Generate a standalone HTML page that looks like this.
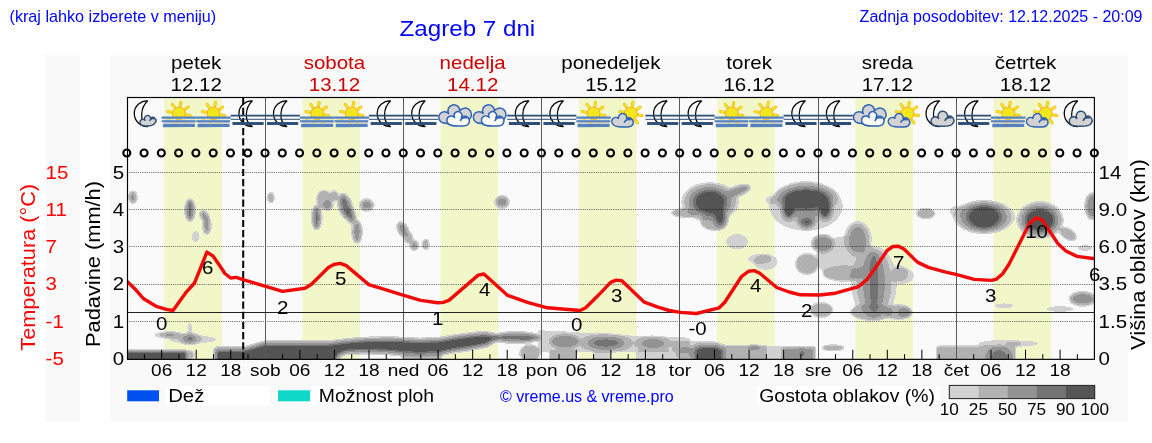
<!DOCTYPE html>
<html><head><meta charset="utf-8"><title>Zagreb 7 dni</title>
<style>
html,body{margin:0;padding:0;background:#fff;}
body{width:1152px;height:443px;overflow:hidden;position:relative;font-family:"Liberation Sans",sans-serif;}
svg{position:absolute;left:0;top:0;display:block;}
text{font-family:"Liberation Sans",sans-serif;}
svg{opacity:0.9999;will-change:opacity;}
</style></head><body>
<svg width="1152" height="443" viewBox="0 0 1152 443">
<defs>
<filter id="cl" x="0" y="0" width="1152" height="443" filterUnits="userSpaceOnUse" color-interpolation-filters="sRGB">
<feGaussianBlur stdDeviation="1.15"/>
<feColorMatrix type="matrix" values="0 0 0 1 0  0 0 0 1 0  0 0 0 1 0  0 0 0 1 0"/>
<feComponentTransfer>
<feFuncR type="discrete" tableValues="1 1 1 1 0.8235 0.8235 0.8235 0.8235 0.8235 0.8235 0.698 0.698 0.698 0.698 0.698 0.698 0.698 0.698 0.698 0.698 0.5765 0.5765 0.5765 0.5765 0.5765 0.5765 0.5765 0.5765 0.5765 0.5765 0.4549 0.4549 0.4549 0.4549 0.4549 0.4549 0.3333 0.3333 0.3333 0.3333"/>
<feFuncG type="discrete" tableValues="1 1 1 1 0.8235 0.8235 0.8235 0.8235 0.8235 0.8235 0.698 0.698 0.698 0.698 0.698 0.698 0.698 0.698 0.698 0.698 0.5765 0.5765 0.5765 0.5765 0.5765 0.5765 0.5765 0.5765 0.5765 0.5765 0.4549 0.4549 0.4549 0.4549 0.4549 0.4549 0.3333 0.3333 0.3333 0.3333"/>
<feFuncB type="discrete" tableValues="1 1 1 1 0.8235 0.8235 0.8235 0.8235 0.8235 0.8235 0.698 0.698 0.698 0.698 0.698 0.698 0.698 0.698 0.698 0.698 0.5765 0.5765 0.5765 0.5765 0.5765 0.5765 0.5765 0.5765 0.5765 0.5765 0.4549 0.4549 0.4549 0.4549 0.4549 0.4549 0.3333 0.3333 0.3333 0.3333"/>
<feFuncA type="discrete" tableValues="0 0 0 0 1 1 1 1 1 1 1 1 1 1 1 1 1 1 1 1 1 1 1 1 1 1 1 1 1 1 1 1 1 1 1 1 1 1 1 1"/>
</feComponentTransfer>
</filter>
<clipPath id="plot"><rect x="127.1" y="97.5" width="967.5399999999998" height="261.85"/></clipPath>
</defs>
<rect x="45.5" y="55" width="34.5" height="367" fill="#f9f9f9"/>
<rect x="110" y="55" width="1018.2" height="367" fill="#f9f9f9"/>
<rect x="127.1" y="97.5" width="967.54" height="261.85" fill="#fafafa"/>
<rect x="164.20" y="97.5" width="57.6" height="261.85" fill="#f1f7c9"/>
<rect x="302.42" y="97.5" width="57.6" height="261.85" fill="#f1f7c9"/>
<rect x="440.64" y="97.5" width="57.6" height="261.85" fill="#f1f7c9"/>
<rect x="578.86" y="97.5" width="57.6" height="261.85" fill="#f1f7c9"/>
<rect x="717.08" y="97.5" width="57.6" height="261.85" fill="#f1f7c9"/>
<rect x="855.30" y="97.5" width="57.6" height="261.85" fill="#f1f7c9"/>
<rect x="993.52" y="97.5" width="57.6" height="261.85" fill="#f1f7c9"/>
<g clip-path="url(#plot)"><g filter="url(#cl)">
<ellipse cx="132.9" cy="197.2" rx="5.0" ry="7.0" fill="#000" fill-opacity="0.180"/>
<ellipse cx="132.9" cy="197.2" rx="3.4" ry="5.4" fill="#000" fill-opacity="0.244"/>
<ellipse cx="132.9" cy="197.2" rx="1.8" ry="3.8" fill="#000" fill-opacity="0.387"/>
<ellipse cx="190.0" cy="210.1" rx="6.0" ry="12.0" fill="#000" fill-opacity="0.180"/>
<ellipse cx="190.0" cy="210.1" rx="4.7" ry="10.7" fill="#000" fill-opacity="0.244"/>
<ellipse cx="190.0" cy="210.1" rx="3.4" ry="9.4" fill="#000" fill-opacity="0.387"/>
<ellipse cx="190.0" cy="210.1" rx="2.1" ry="8.1" fill="#000" fill-opacity="0.526"/>
<ellipse cx="204.5" cy="216.0" rx="5.0" ry="7.0" fill="#000" fill-opacity="0.180" transform="rotate(-30 204.5 216.0)"/>
<ellipse cx="204.5" cy="216.0" rx="3.4" ry="5.4" fill="#000" fill-opacity="0.244" transform="rotate(-30 204.5 216.0)"/>
<ellipse cx="204.5" cy="216.0" rx="1.8" ry="3.8" fill="#000" fill-opacity="0.387" transform="rotate(-30 204.5 216.0)"/>
<ellipse cx="206.9" cy="226.0" rx="5.0" ry="9.0" fill="#000" fill-opacity="0.180"/>
<ellipse cx="206.9" cy="226.0" rx="3.4" ry="7.4" fill="#000" fill-opacity="0.244"/>
<ellipse cx="206.9" cy="226.0" rx="1.8" ry="5.8" fill="#000" fill-opacity="0.387"/>
<ellipse cx="195.6" cy="236.7" rx="4.0" ry="6.0" fill="#000" fill-opacity="0.180"/>
<ellipse cx="270.8" cy="197.7" rx="4.0" ry="6.0" fill="#000" fill-opacity="0.180"/>
<ellipse cx="270.8" cy="197.7" rx="2.4" ry="4.4" fill="#000" fill-opacity="0.244"/>
<ellipse cx="316.6" cy="217.6" rx="6.0" ry="13.0" fill="#000" fill-opacity="0.180"/>
<ellipse cx="316.6" cy="217.6" rx="4.6" ry="11.6" fill="#000" fill-opacity="0.244"/>
<ellipse cx="316.6" cy="217.6" rx="3.2" ry="10.2" fill="#000" fill-opacity="0.387"/>
<ellipse cx="316.6" cy="217.6" rx="1.8" ry="8.8" fill="#000" fill-opacity="0.526"/>
<ellipse cx="323.9" cy="199.5" rx="8.0" ry="10.0" fill="#000" fill-opacity="0.180"/>
<ellipse cx="323.9" cy="199.5" rx="6.4" ry="8.4" fill="#000" fill-opacity="0.244"/>
<ellipse cx="327.9" cy="205.1" rx="6.0" ry="6.0" fill="#000" fill-opacity="0.180"/>
<ellipse cx="327.9" cy="205.1" rx="4.4" ry="4.4" fill="#000" fill-opacity="0.244"/>
<ellipse cx="327.9" cy="205.1" rx="2.8" ry="2.8" fill="#000" fill-opacity="0.387"/>
<ellipse cx="334.0" cy="196.1" rx="5.0" ry="6.0" fill="#000" fill-opacity="0.180"/>
<ellipse cx="334.0" cy="196.1" rx="3.4" ry="4.4" fill="#000" fill-opacity="0.244"/>
<ellipse cx="345.3" cy="206.3" rx="8.0" ry="14.0" fill="#000" fill-opacity="0.180" transform="rotate(-15 345.3 206.3)"/>
<ellipse cx="345.3" cy="206.3" rx="6.4" ry="12.4" fill="#000" fill-opacity="0.244" transform="rotate(-15 345.3 206.3)"/>
<ellipse cx="345.3" cy="206.3" rx="4.8" ry="10.8" fill="#000" fill-opacity="0.387" transform="rotate(-15 345.3 206.3)"/>
<ellipse cx="345.3" cy="206.3" rx="3.2" ry="9.2" fill="#000" fill-opacity="0.526" transform="rotate(-15 345.3 206.3)"/>
<ellipse cx="350.5" cy="215.3" rx="6.0" ry="10.0" fill="#000" fill-opacity="0.180" transform="rotate(-20 350.5 215.3)"/>
<ellipse cx="350.5" cy="215.3" rx="4.4" ry="8.4" fill="#000" fill-opacity="0.244" transform="rotate(-20 350.5 215.3)"/>
<ellipse cx="350.5" cy="215.3" rx="2.8" ry="6.8" fill="#000" fill-opacity="0.387" transform="rotate(-20 350.5 215.3)"/>
<ellipse cx="350.5" cy="215.3" rx="1.2" ry="5.2" fill="#000" fill-opacity="0.526" transform="rotate(-20 350.5 215.3)"/>
<ellipse cx="357.0" cy="231.8" rx="6.0" ry="12.0" fill="#000" fill-opacity="0.180"/>
<ellipse cx="357.0" cy="231.8" rx="4.4" ry="10.4" fill="#000" fill-opacity="0.244"/>
<ellipse cx="357.0" cy="231.8" rx="2.8" ry="8.8" fill="#000" fill-opacity="0.387"/>
<ellipse cx="366.7" cy="205.1" rx="8.0" ry="7.0" fill="#000" fill-opacity="0.180"/>
<ellipse cx="366.7" cy="205.1" rx="6.2" ry="5.2" fill="#000" fill-opacity="0.244"/>
<ellipse cx="366.7" cy="205.1" rx="4.4" ry="3.4" fill="#000" fill-opacity="0.387"/>
<ellipse cx="366.7" cy="205.1" rx="2.6" ry="1.6" fill="#000" fill-opacity="0.526"/>
<ellipse cx="392.0" cy="196.8" rx="1.0" ry="1.0" fill="#000" fill-opacity="0.180"/>
<ellipse cx="402.9" cy="229.5" rx="6.0" ry="9.0" fill="#000" fill-opacity="0.180" transform="rotate(-30 402.9 229.5)"/>
<ellipse cx="402.9" cy="229.5" rx="4.4" ry="7.4" fill="#000" fill-opacity="0.244" transform="rotate(-30 402.9 229.5)"/>
<ellipse cx="402.9" cy="229.5" rx="2.8" ry="5.8" fill="#000" fill-opacity="0.387" transform="rotate(-30 402.9 229.5)"/>
<ellipse cx="408.5" cy="237.9" rx="5.0" ry="6.0" fill="#000" fill-opacity="0.180"/>
<ellipse cx="408.5" cy="237.9" rx="3.4" ry="4.4" fill="#000" fill-opacity="0.244"/>
<ellipse cx="414.2" cy="245.3" rx="5.0" ry="6.0" fill="#000" fill-opacity="0.180"/>
<ellipse cx="414.2" cy="245.3" rx="3.4" ry="4.4" fill="#000" fill-opacity="0.244"/>
<ellipse cx="414.2" cy="245.3" rx="1.8" ry="2.8" fill="#000" fill-opacity="0.387"/>
<ellipse cx="425.7" cy="244.4" rx="4.0" ry="6.0" fill="#000" fill-opacity="0.180"/>
<ellipse cx="425.7" cy="244.4" rx="2.4" ry="4.4" fill="#000" fill-opacity="0.244"/>
<ellipse cx="502.0" cy="202.0" rx="8.0" ry="7.0" fill="#000" fill-opacity="0.180"/>
<ellipse cx="502.0" cy="202.0" rx="6.4" ry="5.4" fill="#000" fill-opacity="0.244"/>
<ellipse cx="502.0" cy="202.0" rx="4.8" ry="3.8" fill="#000" fill-opacity="0.387"/>
<ellipse cx="710.0" cy="202.0" rx="29.0" ry="20.0" fill="#000" fill-opacity="0.180"/>
<ellipse cx="710.0" cy="202.0" rx="25.3" ry="17.6" fill="#000" fill-opacity="0.244"/>
<ellipse cx="710.0" cy="202.0" rx="21.6" ry="15.2" fill="#000" fill-opacity="0.387"/>
<ellipse cx="710.0" cy="202.0" rx="17.9" ry="12.8" fill="#000" fill-opacity="0.526"/>
<ellipse cx="710.0" cy="202.0" rx="14.2" ry="10.4" fill="#000" fill-opacity="0.833"/>
<ellipse cx="720.0" cy="217.0" rx="9.0" ry="13.0" fill="#000" fill-opacity="0.180"/>
<ellipse cx="720.0" cy="217.0" rx="7.3" ry="11.3" fill="#000" fill-opacity="0.244"/>
<ellipse cx="720.0" cy="217.0" rx="5.6" ry="9.6" fill="#000" fill-opacity="0.387"/>
<ellipse cx="720.0" cy="217.0" rx="3.9" ry="7.9" fill="#000" fill-opacity="0.526"/>
<ellipse cx="720.0" cy="217.0" rx="2.2" ry="6.2" fill="#000" fill-opacity="0.833"/>
<ellipse cx="714.0" cy="221.0" rx="14.0" ry="10.0" fill="#000" fill-opacity="0.180"/>
<ellipse cx="714.0" cy="221.0" rx="12.4" ry="8.4" fill="#000" fill-opacity="0.244"/>
<ellipse cx="685.0" cy="213.0" rx="14.0" ry="5.0" fill="#000" fill-opacity="0.180"/>
<ellipse cx="685.0" cy="213.0" rx="12.4" ry="3.4" fill="#000" fill-opacity="0.244"/>
<ellipse cx="738.0" cy="191.0" rx="14.0" ry="6.0" fill="#000" fill-opacity="0.180" transform="rotate(-20 738.0 191.0)"/>
<ellipse cx="738.0" cy="191.0" rx="12.4" ry="4.4" fill="#000" fill-opacity="0.244" transform="rotate(-20 738.0 191.0)"/>
<ellipse cx="738.0" cy="191.0" rx="10.8" ry="2.8" fill="#000" fill-opacity="0.387" transform="rotate(-20 738.0 191.0)"/>
<ellipse cx="806.0" cy="199.0" rx="32.0" ry="16.0" fill="#000" fill-opacity="0.180"/>
<ellipse cx="806.0" cy="199.0" rx="29.2" ry="14.2" fill="#000" fill-opacity="0.244"/>
<ellipse cx="806.0" cy="199.0" rx="26.4" ry="12.4" fill="#000" fill-opacity="0.387"/>
<ellipse cx="806.0" cy="199.0" rx="23.6" ry="10.6" fill="#000" fill-opacity="0.526"/>
<ellipse cx="806.0" cy="199.0" rx="20.8" ry="8.8" fill="#000" fill-opacity="0.833"/>
<ellipse cx="789.0" cy="209.0" rx="9.0" ry="13.0" fill="#000" fill-opacity="0.180"/>
<ellipse cx="789.0" cy="209.0" rx="7.8" ry="11.5" fill="#000" fill-opacity="0.244"/>
<ellipse cx="789.0" cy="209.0" rx="6.6" ry="10.0" fill="#000" fill-opacity="0.387"/>
<ellipse cx="789.0" cy="209.0" rx="5.4" ry="8.5" fill="#000" fill-opacity="0.526"/>
<ellipse cx="789.0" cy="209.0" rx="4.2" ry="7.0" fill="#000" fill-opacity="0.833"/>
<ellipse cx="825.0" cy="209.0" rx="9.0" ry="13.0" fill="#000" fill-opacity="0.180"/>
<ellipse cx="825.0" cy="209.0" rx="7.8" ry="11.5" fill="#000" fill-opacity="0.244"/>
<ellipse cx="825.0" cy="209.0" rx="6.6" ry="10.0" fill="#000" fill-opacity="0.387"/>
<ellipse cx="825.0" cy="209.0" rx="5.4" ry="8.5" fill="#000" fill-opacity="0.526"/>
<ellipse cx="825.0" cy="209.0" rx="4.2" ry="7.0" fill="#000" fill-opacity="0.833"/>
<ellipse cx="806.6" cy="215.0" rx="13.0" ry="12.0" fill="#000" fill-opacity="0.180"/>
<ellipse cx="806.6" cy="215.0" rx="11.4" ry="10.4" fill="#000" fill-opacity="0.244"/>
<ellipse cx="806.6" cy="222.0" rx="9.0" ry="8.0" fill="#000" fill-opacity="0.180"/>
<ellipse cx="806.6" cy="222.0" rx="7.4" ry="6.4" fill="#000" fill-opacity="0.244"/>
<ellipse cx="806.6" cy="222.0" rx="5.8" ry="4.8" fill="#000" fill-opacity="0.387"/>
<ellipse cx="806.6" cy="222.0" rx="4.2" ry="3.2" fill="#000" fill-opacity="0.526"/>
<ellipse cx="806.0" cy="206.0" rx="37.0" ry="25.0" fill="#000" fill-opacity="0.180"/>
<ellipse cx="772.0" cy="200.0" rx="7.0" ry="4.0" fill="#000" fill-opacity="0.180"/>
<ellipse cx="737.0" cy="241.7" rx="11.0" ry="8.0" fill="#000" fill-opacity="0.180"/>
<ellipse cx="822.8" cy="243.5" rx="12.0" ry="10.0" fill="#000" fill-opacity="0.180"/>
<ellipse cx="822.8" cy="243.5" rx="10.4" ry="8.4" fill="#000" fill-opacity="0.244"/>
<ellipse cx="822.8" cy="243.5" rx="8.8" ry="6.8" fill="#000" fill-opacity="0.387"/>
<ellipse cx="759.6" cy="259.0" rx="12.0" ry="5.0" fill="#000" fill-opacity="0.180"/>
<ellipse cx="857.9" cy="239.1" rx="14.0" ry="18.0" fill="#000" fill-opacity="0.180"/>
<ellipse cx="857.9" cy="239.1" rx="11.0" ry="15.0" fill="#000" fill-opacity="0.244"/>
<ellipse cx="857.9" cy="239.1" rx="8.0" ry="12.0" fill="#000" fill-opacity="0.387"/>
<ellipse cx="807.0" cy="264.0" rx="12.0" ry="11.0" fill="#000" fill-opacity="0.180"/>
<ellipse cx="807.0" cy="264.0" rx="10.4" ry="9.4" fill="#000" fill-opacity="0.244"/>
<ellipse cx="844.5" cy="273.6" rx="22.0" ry="8.0" fill="#000" fill-opacity="0.180"/>
<ellipse cx="844.5" cy="273.6" rx="20.4" ry="6.4" fill="#000" fill-opacity="0.244"/>
<ellipse cx="846.0" cy="258.0" rx="30.0" ry="22.0" fill="#000" fill-opacity="0.180"/>
<ellipse cx="874.0" cy="283.0" rx="23.0" ry="37.0" fill="#000" fill-opacity="0.180"/>
<ellipse cx="874.0" cy="283.0" rx="17.0" ry="33.8" fill="#000" fill-opacity="0.244"/>
<ellipse cx="874.0" cy="283.0" rx="11.0" ry="30.6" fill="#000" fill-opacity="0.387"/>
<ellipse cx="874.0" cy="283.0" rx="5.0" ry="27.4" fill="#000" fill-opacity="0.526"/>
<ellipse cx="872.0" cy="312.0" rx="22.0" ry="9.0" fill="#000" fill-opacity="0.180"/>
<ellipse cx="872.0" cy="312.0" rx="20.4" ry="7.4" fill="#000" fill-opacity="0.244"/>
<ellipse cx="821.4" cy="310.0" rx="12.0" ry="8.0" fill="#000" fill-opacity="0.180"/>
<ellipse cx="821.4" cy="310.0" rx="10.4" ry="6.4" fill="#000" fill-opacity="0.244"/>
<ellipse cx="902.0" cy="276.0" rx="12.0" ry="8.0" fill="#000" fill-opacity="0.180"/>
<ellipse cx="898.0" cy="312.0" rx="14.0" ry="8.0" fill="#000" fill-opacity="0.180"/>
<ellipse cx="898.0" cy="312.0" rx="12.4" ry="6.4" fill="#000" fill-opacity="0.244"/>
<ellipse cx="925.8" cy="213.4" rx="10.0" ry="6.0" fill="#000" fill-opacity="0.180"/>
<ellipse cx="925.8" cy="213.4" rx="8.4" ry="4.4" fill="#000" fill-opacity="0.244"/>
<ellipse cx="875.0" cy="209.0" rx="2.0" ry="1.5" fill="#000" fill-opacity="0.180"/>
<ellipse cx="765.8" cy="262.0" rx="12.0" ry="8.0" fill="#000" fill-opacity="0.180"/>
<ellipse cx="957.7" cy="211.5" rx="8.0" ry="6.0" fill="#000" fill-opacity="0.180"/>
<ellipse cx="984.0" cy="217.0" rx="31.0" ry="17.0" fill="#000" fill-opacity="0.180"/>
<ellipse cx="984.0" cy="217.0" rx="27.0" ry="15.4" fill="#000" fill-opacity="0.244"/>
<ellipse cx="984.0" cy="217.0" rx="23.0" ry="13.8" fill="#000" fill-opacity="0.387"/>
<ellipse cx="984.0" cy="217.0" rx="19.0" ry="12.2" fill="#000" fill-opacity="0.526"/>
<ellipse cx="984.0" cy="217.0" rx="15.0" ry="10.6" fill="#000" fill-opacity="0.833"/>
<ellipse cx="1040.0" cy="220.0" rx="24.0" ry="19.0" fill="#000" fill-opacity="0.180"/>
<ellipse cx="1040.0" cy="220.0" rx="21.3" ry="16.8" fill="#000" fill-opacity="0.244"/>
<ellipse cx="1040.0" cy="220.0" rx="18.6" ry="14.6" fill="#000" fill-opacity="0.387"/>
<ellipse cx="1040.0" cy="220.0" rx="15.9" ry="12.4" fill="#000" fill-opacity="0.526"/>
<ellipse cx="1040.0" cy="220.0" rx="13.2" ry="10.2" fill="#000" fill-opacity="0.833"/>
<ellipse cx="1068.0" cy="234.0" rx="10.0" ry="6.0" fill="#000" fill-opacity="0.180" transform="rotate(30 1068.0 234.0)"/>
<ellipse cx="1068.0" cy="234.0" rx="8.4" ry="4.4" fill="#000" fill-opacity="0.244" transform="rotate(30 1068.0 234.0)"/>
<ellipse cx="1092.0" cy="206.3" rx="8.0" ry="14.0" fill="#000" fill-opacity="0.180"/>
<ellipse cx="1092.0" cy="206.3" rx="6.4" ry="12.4" fill="#000" fill-opacity="0.244"/>
<ellipse cx="1092.0" cy="206.3" rx="4.8" ry="10.8" fill="#000" fill-opacity="0.387"/>
<ellipse cx="1085.0" cy="248.0" rx="8.0" ry="3.0" fill="#000" fill-opacity="0.180"/>
<ellipse cx="1082.7" cy="298.8" rx="14.0" ry="8.0" fill="#000" fill-opacity="0.180"/>
<ellipse cx="1082.7" cy="298.8" rx="12.4" ry="6.4" fill="#000" fill-opacity="0.244"/>
<ellipse cx="1082.7" cy="298.8" rx="10.8" ry="4.8" fill="#000" fill-opacity="0.387"/>
<ellipse cx="1060.0" cy="309.0" rx="14.0" ry="3.0" fill="#000" fill-opacity="0.180"/>
<ellipse cx="1004.0" cy="305.7" rx="10.0" ry="2.5" fill="#000" fill-opacity="0.180"/>
<ellipse cx="904.6" cy="312.6" rx="8.0" ry="6.0" fill="#000" fill-opacity="0.180"/>
<ellipse cx="904.6" cy="312.6" rx="6.4" ry="4.4" fill="#000" fill-opacity="0.244"/>
<ellipse cx="900.0" cy="273.0" rx="8.0" ry="8.0" fill="#000" fill-opacity="0.180"/>
<rect x="118.0" y="349.8" width="70.0" height="20.0" rx="2" fill="#000" fill-opacity="0.180"/>
<rect x="118.6" y="350.4" width="68.8" height="18.8" rx="2" fill="#000" fill-opacity="0.244"/>
<rect x="119.2" y="351.0" width="67.6" height="17.6" rx="2" fill="#000" fill-opacity="0.387"/>
<rect x="119.8" y="351.6" width="66.4" height="16.4" rx="2" fill="#000" fill-opacity="0.526"/>
<rect x="120.4" y="352.2" width="65.2" height="15.2" rx="2" fill="#000" fill-opacity="0.833"/>
<ellipse cx="190.0" cy="355.0" rx="5.0" ry="5.0" fill="#000" fill-opacity="0.180"/>
<ellipse cx="190.0" cy="355.0" rx="3.4" ry="3.4" fill="#000" fill-opacity="0.244"/>
<ellipse cx="169.8" cy="335.0" rx="15.8" ry="3.6" fill="#000" fill-opacity="0.180"/>
<ellipse cx="169.8" cy="335.0" rx="10.4" ry="2.7" fill="#000" fill-opacity="0.244"/>
<ellipse cx="169.8" cy="335.0" rx="5.0" ry="1.8" fill="#000" fill-opacity="0.387"/>
<ellipse cx="189.9" cy="338.7" rx="12.0" ry="6.5" fill="#000" fill-opacity="0.180"/>
<ellipse cx="189.9" cy="338.7" rx="8.7" ry="5.0" fill="#000" fill-opacity="0.244"/>
<ellipse cx="189.9" cy="338.7" rx="5.4" ry="3.5" fill="#000" fill-opacity="0.387"/>
<ellipse cx="189.9" cy="338.7" rx="2.1" ry="2.0" fill="#000" fill-opacity="0.526"/>
<ellipse cx="193.0" cy="339.5" rx="24.0" ry="4.0" fill="#000" fill-opacity="0.180"/>
<ellipse cx="189.9" cy="329.0" rx="2.2" ry="7.0" fill="#000" fill-opacity="0.180"/>
<polygon points="218.0,365.0 218.0,351.5 243.0,351.5 250.0,350.0 258.0,347.5 266.0,345.5 330.0,345.5 345.0,343.5 365.0,342.0 390.0,341.5 420.0,343.0 440.0,342.0 455.0,339.5 470.0,337.5 485.0,336.0 494.0,338.0 485.0,343.0 470.0,346.0 455.0,348.0 440.0,351.0 420.0,352.0 400.0,351.0 390.0,350.0 365.0,349.0 345.0,350.0 338.0,353.0 330.0,365.0" fill="#000" stroke="#000" stroke-width="10.4" stroke-linejoin="round" opacity="0.180"/>
<polygon points="218.0,365.0 218.0,351.5 243.0,351.5 250.0,350.0 258.0,347.5 266.0,345.5 330.0,345.5 345.0,343.5 365.0,342.0 390.0,341.5 420.0,343.0 440.0,342.0 455.0,339.5 470.0,337.5 485.0,336.0 494.0,338.0 485.0,343.0 470.0,346.0 455.0,348.0 440.0,351.0 420.0,352.0 400.0,351.0 390.0,350.0 365.0,349.0 345.0,350.0 338.0,353.0 330.0,365.0" fill="#000" stroke="#000" stroke-width="7.8" stroke-linejoin="round" opacity="0.244"/>
<polygon points="218.0,365.0 218.0,351.5 243.0,351.5 250.0,350.0 258.0,347.5 266.0,345.5 330.0,345.5 345.0,343.5 365.0,342.0 390.0,341.5 420.0,343.0 440.0,342.0 455.0,339.5 470.0,337.5 485.0,336.0 494.0,338.0 485.0,343.0 470.0,346.0 455.0,348.0 440.0,351.0 420.0,352.0 400.0,351.0 390.0,350.0 365.0,349.0 345.0,350.0 338.0,353.0 330.0,365.0" fill="#000" stroke="#000" stroke-width="5.2" stroke-linejoin="round" opacity="0.387"/>
<polygon points="218.0,365.0 218.0,351.5 243.0,351.5 250.0,350.0 258.0,347.5 266.0,345.5 330.0,345.5 345.0,343.5 365.0,342.0 390.0,341.5 420.0,343.0 440.0,342.0 455.0,339.5 470.0,337.5 485.0,336.0 494.0,338.0 485.0,343.0 470.0,346.0 455.0,348.0 440.0,351.0 420.0,352.0 400.0,351.0 390.0,350.0 365.0,349.0 345.0,350.0 338.0,353.0 330.0,365.0" fill="#000" stroke="#000" stroke-width="2.6" stroke-linejoin="round" opacity="0.526"/>
<polygon points="218.0,365.0 218.0,351.5 243.0,351.5 250.0,350.0 258.0,347.5 266.0,345.5 330.0,345.5 345.0,343.5 365.0,342.0 390.0,341.5 420.0,343.0 440.0,342.0 455.0,339.5 470.0,337.5 485.0,336.0 494.0,338.0 485.0,343.0 470.0,346.0 455.0,348.0 440.0,351.0 420.0,352.0 400.0,351.0 390.0,350.0 365.0,349.0 345.0,350.0 338.0,353.0 330.0,365.0" fill="#000" stroke="#000" stroke-width="0.0" stroke-linejoin="round" opacity="0.833"/>
<rect x="402.0" y="352.0" width="40.0" height="12.0" rx="2" fill="#000" fill-opacity="0.180"/>
<rect x="403.0" y="353.0" width="38.0" height="10.0" rx="2" fill="#000" fill-opacity="0.244"/>
<ellipse cx="516.0" cy="337.5" rx="26.0" ry="6.5" fill="#000" fill-opacity="0.180"/>
<ellipse cx="516.0" cy="337.5" rx="24.5" ry="5.1" fill="#000" fill-opacity="0.244"/>
<ellipse cx="516.0" cy="337.5" rx="23.0" ry="3.7" fill="#000" fill-opacity="0.387"/>
<ellipse cx="516.0" cy="337.5" rx="21.5" ry="2.3" fill="#000" fill-opacity="0.526"/>
<ellipse cx="526.0" cy="339.4" rx="8.0" ry="1.8" fill="#000" fill-opacity="0.180"/>
<ellipse cx="526.0" cy="339.4" rx="6.0" ry="1.3" fill="#000" fill-opacity="0.244"/>
<ellipse cx="526.0" cy="339.4" rx="4.0" ry="0.8" fill="#000" fill-opacity="0.387"/>
<ellipse cx="530.0" cy="353.0" rx="11.0" ry="9.0" fill="#000" fill-opacity="0.180"/>
<ellipse cx="530.0" cy="353.0" rx="9.4" ry="7.4" fill="#000" fill-opacity="0.244"/>
<polygon points="538.0,330.0 560.0,331.0 620.0,335.0 690.0,337.5 690.0,352.0 538.0,352.0" fill="#000" stroke="#000" stroke-width="0.0" stroke-linejoin="round" opacity="0.180"/>
<ellipse cx="565.0" cy="341.5" rx="16.0" ry="8.0" fill="#000" fill-opacity="0.180"/>
<ellipse cx="565.0" cy="341.5" rx="14.4" ry="6.4" fill="#000" fill-opacity="0.244"/>
<ellipse cx="565.0" cy="341.5" rx="12.8" ry="4.8" fill="#000" fill-opacity="0.387"/>
<ellipse cx="606.0" cy="343.0" rx="27.0" ry="9.5" fill="#000" fill-opacity="0.180"/>
<ellipse cx="606.0" cy="343.0" rx="22.0" ry="7.5" fill="#000" fill-opacity="0.244"/>
<ellipse cx="606.0" cy="343.0" rx="17.0" ry="5.5" fill="#000" fill-opacity="0.387"/>
<ellipse cx="606.0" cy="343.0" rx="12.0" ry="3.5" fill="#000" fill-opacity="0.526"/>
<ellipse cx="653.0" cy="343.5" rx="19.0" ry="7.5" fill="#000" fill-opacity="0.180"/>
<ellipse cx="653.0" cy="343.5" rx="14.5" ry="5.5" fill="#000" fill-opacity="0.244"/>
<ellipse cx="653.0" cy="343.5" rx="10.0" ry="3.5" fill="#000" fill-opacity="0.387"/>
<rect x="549.0" y="350.0" width="28.0" height="14.0" rx="2" fill="#000" fill-opacity="0.180"/>
<rect x="550.0" y="351.0" width="26.0" height="12.0" rx="2" fill="#000" fill-opacity="0.244"/>
<rect x="593.0" y="350.0" width="18.0" height="14.0" rx="2" fill="#000" fill-opacity="0.180"/>
<rect x="636.0" y="350.0" width="35.0" height="14.0" rx="2" fill="#000" fill-opacity="0.180"/>
<rect x="672.0" y="341.0" width="30.0" height="24.0" rx="2" fill="#000" fill-opacity="0.180"/>
<ellipse cx="686.0" cy="353.0" rx="10.0" ry="8.0" fill="#000" fill-opacity="0.180"/>
<ellipse cx="686.0" cy="353.0" rx="8.4" ry="6.4" fill="#000" fill-opacity="0.244"/>
<polygon points="697.0,365.0 697.0,350.0 703.0,348.0 716.0,348.0 721.0,350.5 721.0,365.0" fill="#000" stroke="#000" stroke-width="12.8" stroke-linejoin="round" opacity="0.180"/>
<polygon points="697.0,365.0 697.0,350.0 703.0,348.0 716.0,348.0 721.0,350.5 721.0,365.0" fill="#000" stroke="#000" stroke-width="9.6" stroke-linejoin="round" opacity="0.244"/>
<polygon points="697.0,365.0 697.0,350.0 703.0,348.0 716.0,348.0 721.0,350.5 721.0,365.0" fill="#000" stroke="#000" stroke-width="6.4" stroke-linejoin="round" opacity="0.387"/>
<polygon points="697.0,365.0 697.0,350.0 703.0,348.0 716.0,348.0 721.0,350.5 721.0,365.0" fill="#000" stroke="#000" stroke-width="3.2" stroke-linejoin="round" opacity="0.526"/>
<polygon points="697.0,365.0 697.0,350.0 703.0,348.0 716.0,348.0 721.0,350.5 721.0,365.0" fill="#000" stroke="#000" stroke-width="0.0" stroke-linejoin="round" opacity="0.833"/>
<rect x="722.0" y="345.0" width="45.0" height="20.0" rx="2" fill="#000" fill-opacity="0.180"/>
<rect x="723.3" y="346.3" width="42.4" height="17.4" rx="2" fill="#000" fill-opacity="0.244"/>
<ellipse cx="754.0" cy="347.7" rx="9.0" ry="2.5" fill="#000" fill-opacity="0.180"/>
<ellipse cx="754.0" cy="347.7" rx="6.5" ry="1.8" fill="#000" fill-opacity="0.244"/>
<ellipse cx="754.0" cy="347.7" rx="4.0" ry="1.1" fill="#000" fill-opacity="0.387"/>
<ellipse cx="754.0" cy="347.7" rx="1.5" ry="0.6" fill="#000" fill-opacity="0.526"/>
<rect x="762.0" y="346.0" width="20.0" height="18.0" rx="2" fill="#000" fill-opacity="0.180"/>
<rect x="781.0" y="346.0" width="35.0" height="20.0" rx="2" fill="#000" fill-opacity="0.180"/>
<rect x="782.3" y="347.3" width="32.4" height="17.4" rx="2" fill="#000" fill-opacity="0.244"/>
<rect x="783.6" y="348.6" width="29.8" height="14.8" rx="2" fill="#000" fill-opacity="0.387"/>
<ellipse cx="802.0" cy="354.0" rx="6.0" ry="6.0" fill="#000" fill-opacity="0.180"/>
<ellipse cx="802.0" cy="354.0" rx="4.4" ry="4.4" fill="#000" fill-opacity="0.244"/>
<ellipse cx="833.0" cy="347.8" rx="12.0" ry="3.5" fill="#000" fill-opacity="0.180"/>
<ellipse cx="833.0" cy="347.8" rx="10.4" ry="1.9" fill="#000" fill-opacity="0.244"/>
<rect x="936.0" y="345.5" width="80.0" height="20.0" rx="2" fill="#000" fill-opacity="0.180"/>
<rect x="937.2" y="346.7" width="77.6" height="17.6" rx="2" fill="#000" fill-opacity="0.244"/>
<ellipse cx="999.0" cy="358.0" rx="16.0" ry="13.0" fill="#000" fill-opacity="0.180"/>
<ellipse cx="999.0" cy="358.0" rx="12.8" ry="11.0" fill="#000" fill-opacity="0.244"/>
<ellipse cx="999.0" cy="358.0" rx="9.6" ry="9.0" fill="#000" fill-opacity="0.387"/>
<ellipse cx="999.0" cy="358.0" rx="6.4" ry="7.0" fill="#000" fill-opacity="0.526"/>
<ellipse cx="1000.0" cy="344.0" rx="22.0" ry="4.0" fill="#000" fill-opacity="0.180"/>
<ellipse cx="1022.0" cy="343.5" rx="17.0" ry="3.0" fill="#000" fill-opacity="0.180"/>
</g></g>
<line x1="127.1" x2="1094.64" y1="321.50" y2="321.50" stroke="#000" stroke-width="0.75" stroke-dasharray="0.7 1.14"/>
<line x1="127.1" x2="1094.64" y1="284.50" y2="284.50" stroke="#000" stroke-width="0.75" stroke-dasharray="0.7 1.14"/>
<line x1="127.1" x2="1094.64" y1="246.50" y2="246.50" stroke="#000" stroke-width="0.75" stroke-dasharray="0.7 1.14"/>
<line x1="127.1" x2="1094.64" y1="209.50" y2="209.50" stroke="#000" stroke-width="0.75" stroke-dasharray="0.7 1.14"/>
<line x1="127.1" x2="1094.64" y1="172.50" y2="172.50" stroke="#000" stroke-width="0.75" stroke-dasharray="0.7 1.14"/>
<line x1="265.50" x2="265.50" y1="97.5" y2="359.35" stroke="#5a5a5a" stroke-width="1"/>
<line x1="403.50" x2="403.50" y1="97.5" y2="359.35" stroke="#5a5a5a" stroke-width="1"/>
<line x1="541.50" x2="541.50" y1="97.5" y2="359.35" stroke="#5a5a5a" stroke-width="1"/>
<line x1="679.50" x2="679.50" y1="97.5" y2="359.35" stroke="#5a5a5a" stroke-width="1"/>
<line x1="818.50" x2="818.50" y1="97.5" y2="359.35" stroke="#5a5a5a" stroke-width="1"/>
<line x1="956.50" x2="956.50" y1="97.5" y2="359.35" stroke="#5a5a5a" stroke-width="1"/>
<line x1="127.1" x2="1094.64" y1="312.50" y2="312.50" stroke="#222" stroke-width="1"/>
<line x1="243.2" x2="243.2" y1="97.5" y2="359.35" stroke="#000" stroke-width="2" stroke-dasharray="7.2 3.0"/>
<line x1="144.38" x2="144.38" y1="359.35" y2="354.15000000000003" stroke="#000" stroke-width="1"/>
<line x1="161.66" x2="161.66" y1="359.35" y2="349.75" stroke="#000" stroke-width="1"/>
<line x1="178.93" x2="178.93" y1="359.35" y2="354.15000000000003" stroke="#000" stroke-width="1"/>
<line x1="196.21" x2="196.21" y1="359.35" y2="349.75" stroke="#000" stroke-width="1"/>
<line x1="213.49" x2="213.49" y1="359.35" y2="354.15000000000003" stroke="#000" stroke-width="1"/>
<line x1="230.76" x2="230.76" y1="359.35" y2="349.75" stroke="#000" stroke-width="1"/>
<line x1="248.04" x2="248.04" y1="359.35" y2="354.15000000000003" stroke="#000" stroke-width="1"/>
<line x1="282.60" x2="282.60" y1="359.35" y2="354.15000000000003" stroke="#000" stroke-width="1"/>
<line x1="299.88" x2="299.88" y1="359.35" y2="349.75" stroke="#000" stroke-width="1"/>
<line x1="317.15" x2="317.15" y1="359.35" y2="354.15000000000003" stroke="#000" stroke-width="1"/>
<line x1="334.43" x2="334.43" y1="359.35" y2="349.75" stroke="#000" stroke-width="1"/>
<line x1="351.71" x2="351.71" y1="359.35" y2="354.15000000000003" stroke="#000" stroke-width="1"/>
<line x1="368.99" x2="368.99" y1="359.35" y2="349.75" stroke="#000" stroke-width="1"/>
<line x1="386.26" x2="386.26" y1="359.35" y2="354.15000000000003" stroke="#000" stroke-width="1"/>
<line x1="420.82" x2="420.82" y1="359.35" y2="354.15000000000003" stroke="#000" stroke-width="1"/>
<line x1="438.10" x2="438.10" y1="359.35" y2="349.75" stroke="#000" stroke-width="1"/>
<line x1="455.37" x2="455.37" y1="359.35" y2="354.15000000000003" stroke="#000" stroke-width="1"/>
<line x1="472.65" x2="472.65" y1="359.35" y2="349.75" stroke="#000" stroke-width="1"/>
<line x1="489.93" x2="489.93" y1="359.35" y2="354.15000000000003" stroke="#000" stroke-width="1"/>
<line x1="507.20" x2="507.20" y1="359.35" y2="349.75" stroke="#000" stroke-width="1"/>
<line x1="524.48" x2="524.48" y1="359.35" y2="354.15000000000003" stroke="#000" stroke-width="1"/>
<line x1="559.04" x2="559.04" y1="359.35" y2="354.15000000000003" stroke="#000" stroke-width="1"/>
<line x1="576.31" x2="576.31" y1="359.35" y2="349.75" stroke="#000" stroke-width="1"/>
<line x1="593.59" x2="593.59" y1="359.35" y2="354.15000000000003" stroke="#000" stroke-width="1"/>
<line x1="610.87" x2="610.87" y1="359.35" y2="349.75" stroke="#000" stroke-width="1"/>
<line x1="628.15" x2="628.15" y1="359.35" y2="354.15000000000003" stroke="#000" stroke-width="1"/>
<line x1="645.42" x2="645.42" y1="359.35" y2="349.75" stroke="#000" stroke-width="1"/>
<line x1="662.70" x2="662.70" y1="359.35" y2="354.15000000000003" stroke="#000" stroke-width="1"/>
<line x1="697.26" x2="697.26" y1="359.35" y2="354.15000000000003" stroke="#000" stroke-width="1"/>
<line x1="714.53" x2="714.53" y1="359.35" y2="349.75" stroke="#000" stroke-width="1"/>
<line x1="731.81" x2="731.81" y1="359.35" y2="354.15000000000003" stroke="#000" stroke-width="1"/>
<line x1="749.09" x2="749.09" y1="359.35" y2="349.75" stroke="#000" stroke-width="1"/>
<line x1="766.37" x2="766.37" y1="359.35" y2="354.15000000000003" stroke="#000" stroke-width="1"/>
<line x1="783.64" x2="783.64" y1="359.35" y2="349.75" stroke="#000" stroke-width="1"/>
<line x1="800.92" x2="800.92" y1="359.35" y2="354.15000000000003" stroke="#000" stroke-width="1"/>
<line x1="835.48" x2="835.48" y1="359.35" y2="354.15000000000003" stroke="#000" stroke-width="1"/>
<line x1="852.75" x2="852.75" y1="359.35" y2="349.75" stroke="#000" stroke-width="1"/>
<line x1="870.03" x2="870.03" y1="359.35" y2="354.15000000000003" stroke="#000" stroke-width="1"/>
<line x1="887.31" x2="887.31" y1="359.35" y2="349.75" stroke="#000" stroke-width="1"/>
<line x1="904.59" x2="904.59" y1="359.35" y2="354.15000000000003" stroke="#000" stroke-width="1"/>
<line x1="921.87" x2="921.87" y1="359.35" y2="349.75" stroke="#000" stroke-width="1"/>
<line x1="939.14" x2="939.14" y1="359.35" y2="354.15000000000003" stroke="#000" stroke-width="1"/>
<line x1="973.70" x2="973.70" y1="359.35" y2="354.15000000000003" stroke="#000" stroke-width="1"/>
<line x1="990.98" x2="990.98" y1="359.35" y2="349.75" stroke="#000" stroke-width="1"/>
<line x1="1008.25" x2="1008.25" y1="359.35" y2="354.15000000000003" stroke="#000" stroke-width="1"/>
<line x1="1025.53" x2="1025.53" y1="359.35" y2="349.75" stroke="#000" stroke-width="1"/>
<line x1="1042.81" x2="1042.81" y1="359.35" y2="354.15000000000003" stroke="#000" stroke-width="1"/>
<line x1="1060.08" x2="1060.08" y1="359.35" y2="349.75" stroke="#000" stroke-width="1"/>
<line x1="1077.36" x2="1077.36" y1="359.35" y2="354.15000000000003" stroke="#000" stroke-width="1"/>
<polyline points="127.2,281.5 135.8,289.8 143.7,298.8 156.1,306.3 166.3,309.4 173.0,310.5 185.4,293.2 194.5,283.0 206.9,252.1 213.0,256.0 219.3,265.0 224.9,273.5 230.6,278.0 236.2,277.4 243.0,279.6 282.5,291.4 305.0,288.2 311.5,284.2 328.4,267.5 333.8,264.5 340.2,263.4 346.3,265.6 368.8,284.6 403.8,295.4 420.7,300.4 437.6,302.7 443.3,302.4 448.9,300.4 478.2,275.1 483.9,274.0 507.7,295.4 528.2,302.7 547.4,307.8 580.1,310.5 585.7,307.8 599.3,294.3 610.6,282.3 616.2,280.1 621.8,280.8 644.4,302.2 657.9,307.2 669.2,310.5 680.5,312.4 696.3,313.5 719.2,307.8 724.8,302.2 741.7,276.3 748.5,271.3 754.2,270.6 759.8,273.3 776.7,287.5 789.1,292.0 800.4,294.8 819.6,295.0 835.4,293.2 857.9,286.9 867.0,279.6 874.9,268.4 887.3,250.3 892.9,246.5 898.6,246.2 904.2,249.2 917.4,262.1 928.4,267.4 945.8,272.2 956.9,274.7 974.3,279.4 991.7,280.4 996.4,279.1 1002.7,273.8 1009.0,264.3 1029.6,223.2 1036.5,217.8 1042.2,220.0 1048.5,229.5 1058.0,243.7 1065.9,251.0 1077.0,256.4 1095.0,258.8" fill="none" stroke="#f00a0a" stroke-width="3.4" stroke-linejoin="round" stroke-linecap="butt" clip-path="url(#plot)"/>
<text transform="translate(161.60,330.20) scale(1.14,1)" font-size="18.0" text-anchor="middle" fill="#000" >0</text>
<text transform="translate(207.60,274.20) scale(1.14,1)" font-size="18.0" text-anchor="middle" fill="#000" >6</text>
<text transform="translate(282.60,314.20) scale(1.14,1)" font-size="18.0" text-anchor="middle" fill="#000" >2</text>
<text transform="translate(340.60,285.20) scale(1.14,1)" font-size="18.0" text-anchor="middle" fill="#000" >5</text>
<text transform="translate(437.60,325.20) scale(1.14,1)" font-size="18.0" text-anchor="middle" fill="#000" >1</text>
<text transform="translate(484.60,296.20) scale(1.14,1)" font-size="18.0" text-anchor="middle" fill="#000" >4</text>
<text transform="translate(576.60,331.20) scale(1.14,1)" font-size="18.0" text-anchor="middle" fill="#000" >0</text>
<text transform="translate(616.60,302.20) scale(1.14,1)" font-size="18.0" text-anchor="middle" fill="#000" >3</text>
<text transform="translate(697.60,335.20) scale(1.14,1)" font-size="18.0" text-anchor="middle" fill="#000" >-0</text>
<text transform="translate(755.60,292.20) scale(1.14,1)" font-size="18.0" text-anchor="middle" fill="#000" >4</text>
<text transform="translate(806.60,317.20) scale(1.14,1)" font-size="18.0" text-anchor="middle" fill="#000" >2</text>
<text transform="translate(898.60,269.20) scale(1.14,1)" font-size="18.0" text-anchor="middle" fill="#000" >7</text>
<text transform="translate(990.60,302.20) scale(1.14,1)" font-size="18.0" text-anchor="middle" fill="#000" >3</text>
<text transform="translate(1036.60,238.20) scale(1.14,1)" font-size="18.0" text-anchor="middle" fill="#000" >10</text>
<text transform="translate(1094.60,281.20) scale(1.14,1)" font-size="18.0" text-anchor="middle" fill="#000" >6</text>
<rect x="127.5" y="97.5" width="966.90" height="261.85" fill="none" stroke="#000" stroke-width="1.15"/>
<path transform="translate(147.58,0) scale(0.95,1) translate(-4,0)" d="M4,100.9 C-2.5,100.5 -10.0,105.5 -10.0,113.6 C-10.0,121 -3.8,126.3 4,126.6 C0.5,124.5 -2.4,120 -2.2,114.5 C-2,108.5 0.5,104 4,101 Z" fill="none" stroke="#000" stroke-width="1.3" stroke-linejoin="round"/>
<path d="M140.70,124.18 A2.80,2.80 0 1 1 145.00,120.30 A3.10,3.10 0 1 1 150.67,118.42 A3.10,3.10 0 1 1 155.07,122.79 C153.57,126.80 142.20,126.80 140.70,124.18 Z" fill="#d3d3d3" stroke="#2d4d74" stroke-width="1.4" stroke-linejoin="round"/>
<path d="M149.78,120.44 C150.55,118.74 152.10,118.21 153.96,118.68" fill="none" stroke="#2d4d74" stroke-width="1.4" stroke-linecap="round"/>
<clipPath id="sc178"><rect x="160.9" y="95" width="36" height="22.00"/></clipPath><g clip-path="url(#sc178)"><line x1="171.45" y1="112.28" x2="167.71" y2="111.62" stroke="#f5b324" stroke-width="3.0" stroke-linecap="round"/><line x1="171.45" y1="112.28" x2="167.71" y2="111.62" stroke="#f3e31f" stroke-width="2.0" stroke-linecap="round"/><line x1="174.57" y1="107.37" x2="172.39" y2="104.26" stroke="#f5b324" stroke-width="3.0" stroke-linecap="round"/><line x1="174.57" y1="107.37" x2="172.39" y2="104.26" stroke="#f3e31f" stroke-width="2.0" stroke-linecap="round"/><line x1="180.25" y1="106.12" x2="180.91" y2="102.37" stroke="#f5b324" stroke-width="3.0" stroke-linecap="round"/><line x1="180.25" y1="106.12" x2="180.91" y2="102.37" stroke="#f3e31f" stroke-width="2.0" stroke-linecap="round"/><line x1="185.16" y1="109.24" x2="188.27" y2="107.06" stroke="#f5b324" stroke-width="3.0" stroke-linecap="round"/><line x1="185.16" y1="109.24" x2="188.27" y2="107.06" stroke="#f3e31f" stroke-width="2.0" stroke-linecap="round"/><line x1="186.42" y1="114.92" x2="190.16" y2="115.58" stroke="#f5b324" stroke-width="3.0" stroke-linecap="round"/><line x1="186.42" y1="114.92" x2="190.16" y2="115.58" stroke="#f3e31f" stroke-width="2.0" stroke-linecap="round"/><line x1="183.29" y1="119.83" x2="185.47" y2="122.94" stroke="#f5b324" stroke-width="3.0" stroke-linecap="round"/><line x1="183.29" y1="119.83" x2="185.47" y2="122.94" stroke="#f3e31f" stroke-width="2.0" stroke-linecap="round"/><line x1="177.61" y1="121.08" x2="176.95" y2="124.83" stroke="#f5b324" stroke-width="3.0" stroke-linecap="round"/><line x1="177.61" y1="121.08" x2="176.95" y2="124.83" stroke="#f3e31f" stroke-width="2.0" stroke-linecap="round"/><line x1="172.71" y1="117.96" x2="169.59" y2="120.14" stroke="#f5b324" stroke-width="3.0" stroke-linecap="round"/><line x1="172.71" y1="117.96" x2="169.59" y2="120.14" stroke="#f3e31f" stroke-width="2.0" stroke-linecap="round"/><circle cx="178.93" cy="113.60" r="6.40" fill="#f2e61c" stroke="#f5a623" stroke-width="0.9"/></g>
<rect x="163.43" y="119.6" width="31.5" height="4.6" fill="#cfcfcf"/>
<rect x="175.73" y="118.6" width="6.4" height="1.3" fill="#f2c21e"/><rect x="167.43" y="118.7" width="3" height="1" fill="#f2d21e"/><rect x="175.13" y="122.6" width="2.4" height="1.2" fill="#f2c21e"/><rect x="183.43" y="122.6" width="2.4" height="1.2" fill="#f2c21e"/>
<line x1="161.63" x2="196.23" y1="117.7" y2="117.7" stroke="#5583c1" stroke-width="2.2"/>
<line x1="161.63" x2="195.53" y1="121.2" y2="121.2" stroke="#5583c1" stroke-width="2.1"/>
<line x1="162.93" x2="194.93" y1="125.6" y2="125.5" stroke="#5583c1" stroke-width="3.1"/>
<clipPath id="sc213"><rect x="195.5" y="95" width="36" height="22.00"/></clipPath><g clip-path="url(#sc213)"><line x1="206.00" y1="112.28" x2="202.26" y2="111.62" stroke="#f5b324" stroke-width="3.0" stroke-linecap="round"/><line x1="206.00" y1="112.28" x2="202.26" y2="111.62" stroke="#f3e31f" stroke-width="2.0" stroke-linecap="round"/><line x1="209.13" y1="107.37" x2="206.95" y2="104.26" stroke="#f5b324" stroke-width="3.0" stroke-linecap="round"/><line x1="209.13" y1="107.37" x2="206.95" y2="104.26" stroke="#f3e31f" stroke-width="2.0" stroke-linecap="round"/><line x1="214.81" y1="106.12" x2="215.47" y2="102.37" stroke="#f5b324" stroke-width="3.0" stroke-linecap="round"/><line x1="214.81" y1="106.12" x2="215.47" y2="102.37" stroke="#f3e31f" stroke-width="2.0" stroke-linecap="round"/><line x1="219.71" y1="109.24" x2="222.83" y2="107.06" stroke="#f5b324" stroke-width="3.0" stroke-linecap="round"/><line x1="219.71" y1="109.24" x2="222.83" y2="107.06" stroke="#f3e31f" stroke-width="2.0" stroke-linecap="round"/><line x1="220.97" y1="114.92" x2="224.71" y2="115.58" stroke="#f5b324" stroke-width="3.0" stroke-linecap="round"/><line x1="220.97" y1="114.92" x2="224.71" y2="115.58" stroke="#f3e31f" stroke-width="2.0" stroke-linecap="round"/><line x1="217.85" y1="119.83" x2="220.03" y2="122.94" stroke="#f5b324" stroke-width="3.0" stroke-linecap="round"/><line x1="217.85" y1="119.83" x2="220.03" y2="122.94" stroke="#f3e31f" stroke-width="2.0" stroke-linecap="round"/><line x1="212.17" y1="121.08" x2="211.51" y2="124.83" stroke="#f5b324" stroke-width="3.0" stroke-linecap="round"/><line x1="212.17" y1="121.08" x2="211.51" y2="124.83" stroke="#f3e31f" stroke-width="2.0" stroke-linecap="round"/><line x1="207.26" y1="117.96" x2="204.15" y2="120.14" stroke="#f5b324" stroke-width="3.0" stroke-linecap="round"/><line x1="207.26" y1="117.96" x2="204.15" y2="120.14" stroke="#f3e31f" stroke-width="2.0" stroke-linecap="round"/><circle cx="213.49" cy="113.60" r="6.40" fill="#f2e61c" stroke="#f5a623" stroke-width="0.9"/></g>
<rect x="197.99" y="119.6" width="31.5" height="4.6" fill="#cfcfcf"/>
<rect x="210.29" y="118.6" width="6.4" height="1.3" fill="#f2c21e"/><rect x="201.99" y="118.7" width="3" height="1" fill="#f2d21e"/><rect x="209.69" y="122.6" width="2.4" height="1.2" fill="#f2c21e"/><rect x="217.99" y="122.6" width="2.4" height="1.2" fill="#f2c21e"/>
<line x1="196.19" x2="230.79" y1="117.7" y2="117.7" stroke="#5583c1" stroke-width="2.2"/>
<line x1="196.19" x2="230.09" y1="121.2" y2="121.2" stroke="#5583c1" stroke-width="2.1"/>
<line x1="197.49" x2="229.49" y1="125.6" y2="125.5" stroke="#5583c1" stroke-width="3.1"/>
<path transform="translate(252.24,0) scale(0.95,1) translate(-4,0)" d="M4,100.9 C-2.5,100.5 -10.0,105.5 -10.0,113.6 C-10.0,121 -3.8,126.3 4,126.6 C0.5,124.5 -2.4,120 -2.2,114.5 C-2,108.5 0.5,104 4,101 Z" fill="none" stroke="#000" stroke-width="1.3" stroke-linejoin="round"/>
<line x1="230.74" x2="265.34" y1="115.7" y2="115.7" stroke="#2d4d74" stroke-width="1.8"/>
<line x1="230.74" x2="265.34" y1="119.3" y2="119.3" stroke="#2d4d74" stroke-width="1.0"/>
<line x1="232.44" x2="263.64" y1="123.5" y2="123.5" stroke="#2d4d74" stroke-width="2.9"/>
<path transform="translate(286.80,0) scale(0.95,1) translate(-4,0)" d="M4,100.9 C-2.5,100.5 -10.0,105.5 -10.0,113.6 C-10.0,121 -3.8,126.3 4,126.6 C0.5,124.5 -2.4,120 -2.2,114.5 C-2,108.5 0.5,104 4,101 Z" fill="none" stroke="#000" stroke-width="1.3" stroke-linejoin="round"/>
<line x1="265.30" x2="299.90" y1="115.7" y2="115.7" stroke="#2d4d74" stroke-width="1.8"/>
<line x1="265.30" x2="299.90" y1="119.3" y2="119.3" stroke="#2d4d74" stroke-width="1.0"/>
<line x1="267.00" x2="298.20" y1="123.5" y2="123.5" stroke="#2d4d74" stroke-width="2.9"/>
<clipPath id="sc317"><rect x="299.2" y="95" width="36" height="22.00"/></clipPath><g clip-path="url(#sc317)"><line x1="309.67" y1="112.28" x2="305.93" y2="111.62" stroke="#f5b324" stroke-width="3.0" stroke-linecap="round"/><line x1="309.67" y1="112.28" x2="305.93" y2="111.62" stroke="#f3e31f" stroke-width="2.0" stroke-linecap="round"/><line x1="312.79" y1="107.37" x2="310.61" y2="104.26" stroke="#f5b324" stroke-width="3.0" stroke-linecap="round"/><line x1="312.79" y1="107.37" x2="310.61" y2="104.26" stroke="#f3e31f" stroke-width="2.0" stroke-linecap="round"/><line x1="318.47" y1="106.12" x2="319.13" y2="102.37" stroke="#f5b324" stroke-width="3.0" stroke-linecap="round"/><line x1="318.47" y1="106.12" x2="319.13" y2="102.37" stroke="#f3e31f" stroke-width="2.0" stroke-linecap="round"/><line x1="323.38" y1="109.24" x2="326.49" y2="107.06" stroke="#f5b324" stroke-width="3.0" stroke-linecap="round"/><line x1="323.38" y1="109.24" x2="326.49" y2="107.06" stroke="#f3e31f" stroke-width="2.0" stroke-linecap="round"/><line x1="324.64" y1="114.92" x2="328.38" y2="115.58" stroke="#f5b324" stroke-width="3.0" stroke-linecap="round"/><line x1="324.64" y1="114.92" x2="328.38" y2="115.58" stroke="#f3e31f" stroke-width="2.0" stroke-linecap="round"/><line x1="321.51" y1="119.83" x2="323.69" y2="122.94" stroke="#f5b324" stroke-width="3.0" stroke-linecap="round"/><line x1="321.51" y1="119.83" x2="323.69" y2="122.94" stroke="#f3e31f" stroke-width="2.0" stroke-linecap="round"/><line x1="315.83" y1="121.08" x2="315.17" y2="124.83" stroke="#f5b324" stroke-width="3.0" stroke-linecap="round"/><line x1="315.83" y1="121.08" x2="315.17" y2="124.83" stroke="#f3e31f" stroke-width="2.0" stroke-linecap="round"/><line x1="310.93" y1="117.96" x2="307.81" y2="120.14" stroke="#f5b324" stroke-width="3.0" stroke-linecap="round"/><line x1="310.93" y1="117.96" x2="307.81" y2="120.14" stroke="#f3e31f" stroke-width="2.0" stroke-linecap="round"/><circle cx="317.15" cy="113.60" r="6.40" fill="#f2e61c" stroke="#f5a623" stroke-width="0.9"/></g>
<rect x="301.65" y="119.6" width="31.5" height="4.6" fill="#cfcfcf"/>
<rect x="313.95" y="118.6" width="6.4" height="1.3" fill="#f2c21e"/><rect x="305.65" y="118.7" width="3" height="1" fill="#f2d21e"/><rect x="313.35" y="122.6" width="2.4" height="1.2" fill="#f2c21e"/><rect x="321.65" y="122.6" width="2.4" height="1.2" fill="#f2c21e"/>
<line x1="299.85" x2="334.45" y1="117.7" y2="117.7" stroke="#5583c1" stroke-width="2.2"/>
<line x1="299.85" x2="333.75" y1="121.2" y2="121.2" stroke="#5583c1" stroke-width="2.1"/>
<line x1="301.15" x2="333.15" y1="125.6" y2="125.5" stroke="#5583c1" stroke-width="3.1"/>
<clipPath id="sc351"><rect x="333.7" y="95" width="36" height="22.00"/></clipPath><g clip-path="url(#sc351)"><line x1="344.22" y1="112.28" x2="340.48" y2="111.62" stroke="#f5b324" stroke-width="3.0" stroke-linecap="round"/><line x1="344.22" y1="112.28" x2="340.48" y2="111.62" stroke="#f3e31f" stroke-width="2.0" stroke-linecap="round"/><line x1="347.35" y1="107.37" x2="345.17" y2="104.26" stroke="#f5b324" stroke-width="3.0" stroke-linecap="round"/><line x1="347.35" y1="107.37" x2="345.17" y2="104.26" stroke="#f3e31f" stroke-width="2.0" stroke-linecap="round"/><line x1="353.03" y1="106.12" x2="353.69" y2="102.37" stroke="#f5b324" stroke-width="3.0" stroke-linecap="round"/><line x1="353.03" y1="106.12" x2="353.69" y2="102.37" stroke="#f3e31f" stroke-width="2.0" stroke-linecap="round"/><line x1="357.93" y1="109.24" x2="361.05" y2="107.06" stroke="#f5b324" stroke-width="3.0" stroke-linecap="round"/><line x1="357.93" y1="109.24" x2="361.05" y2="107.06" stroke="#f3e31f" stroke-width="2.0" stroke-linecap="round"/><line x1="359.19" y1="114.92" x2="362.93" y2="115.58" stroke="#f5b324" stroke-width="3.0" stroke-linecap="round"/><line x1="359.19" y1="114.92" x2="362.93" y2="115.58" stroke="#f3e31f" stroke-width="2.0" stroke-linecap="round"/><line x1="356.07" y1="119.83" x2="358.25" y2="122.94" stroke="#f5b324" stroke-width="3.0" stroke-linecap="round"/><line x1="356.07" y1="119.83" x2="358.25" y2="122.94" stroke="#f3e31f" stroke-width="2.0" stroke-linecap="round"/><line x1="350.39" y1="121.08" x2="349.73" y2="124.83" stroke="#f5b324" stroke-width="3.0" stroke-linecap="round"/><line x1="350.39" y1="121.08" x2="349.73" y2="124.83" stroke="#f3e31f" stroke-width="2.0" stroke-linecap="round"/><line x1="345.48" y1="117.96" x2="342.37" y2="120.14" stroke="#f5b324" stroke-width="3.0" stroke-linecap="round"/><line x1="345.48" y1="117.96" x2="342.37" y2="120.14" stroke="#f3e31f" stroke-width="2.0" stroke-linecap="round"/><circle cx="351.71" cy="113.60" r="6.40" fill="#f2e61c" stroke="#f5a623" stroke-width="0.9"/></g>
<rect x="336.21" y="119.6" width="31.5" height="4.6" fill="#cfcfcf"/>
<rect x="348.51" y="118.6" width="6.4" height="1.3" fill="#f2c21e"/><rect x="340.21" y="118.7" width="3" height="1" fill="#f2d21e"/><rect x="347.91" y="122.6" width="2.4" height="1.2" fill="#f2c21e"/><rect x="356.21" y="122.6" width="2.4" height="1.2" fill="#f2c21e"/>
<line x1="334.41" x2="369.01" y1="117.7" y2="117.7" stroke="#5583c1" stroke-width="2.2"/>
<line x1="334.41" x2="368.31" y1="121.2" y2="121.2" stroke="#5583c1" stroke-width="2.1"/>
<line x1="335.71" x2="367.71" y1="125.6" y2="125.5" stroke="#5583c1" stroke-width="3.1"/>
<path transform="translate(390.46,0) scale(0.95,1) translate(-4,0)" d="M4,100.9 C-2.5,100.5 -10.0,105.5 -10.0,113.6 C-10.0,121 -3.8,126.3 4,126.6 C0.5,124.5 -2.4,120 -2.2,114.5 C-2,108.5 0.5,104 4,101 Z" fill="none" stroke="#000" stroke-width="1.3" stroke-linejoin="round"/>
<line x1="368.96" x2="403.56" y1="115.7" y2="115.7" stroke="#2d4d74" stroke-width="1.8"/>
<line x1="368.96" x2="403.56" y1="119.3" y2="119.3" stroke="#2d4d74" stroke-width="1.0"/>
<line x1="370.66" x2="401.86" y1="123.5" y2="123.5" stroke="#2d4d74" stroke-width="2.9"/>
<path transform="translate(425.02,0) scale(0.95,1) translate(-4,0)" d="M4,100.9 C-2.5,100.5 -10.0,105.5 -10.0,113.6 C-10.0,121 -3.8,126.3 4,126.6 C0.5,124.5 -2.4,120 -2.2,114.5 C-2,108.5 0.5,104 4,101 Z" fill="none" stroke="#000" stroke-width="1.3" stroke-linejoin="round"/>
<line x1="403.52" x2="438.12" y1="115.7" y2="115.7" stroke="#2d4d74" stroke-width="1.8"/>
<line x1="403.52" x2="438.12" y1="119.3" y2="119.3" stroke="#2d4d74" stroke-width="1.0"/>
<line x1="405.22" x2="436.42" y1="123.5" y2="123.5" stroke="#2d4d74" stroke-width="2.9"/>
<path d="M440.44,121.33 A5.70,5.70 0 1 1 448.62,113.39 A5.90,5.90 0 1 1 459.77,110.92 A6.40,6.40 0 1 1 469.60,119.03 C468.10,125.00 441.94,125.00 440.44,121.33 Z" fill="#d3d3d3" stroke="#2f62b5" stroke-width="1.5" stroke-linejoin="round"/>
<path d="M447.86,123.11 A4.40,4.40 0 1 1 454.68,117.51 A3.90,3.90 0 1 1 461.18,117.82 A4.60,4.60 0 1 1 468.23,124.05 C466.73,126.90 449.36,126.90 447.86,123.11 Z" fill="#fdfdfd" stroke="#2f62b5" stroke-width="1.5" stroke-linejoin="round"/>
<path d="M460.37,120.57 C461.52,118.04 463.82,117.26 466.58,117.95" fill="none" stroke="#2f62b5" stroke-width="1.5" stroke-linecap="round"/>
<path d="M475.00,121.33 A5.70,5.70 0 1 1 483.18,113.39 A5.90,5.90 0 1 1 494.32,110.92 A6.40,6.40 0 1 1 504.15,119.03 C502.65,125.00 476.50,125.00 475.00,121.33 Z" fill="#d3d3d3" stroke="#2f62b5" stroke-width="1.5" stroke-linejoin="round"/>
<path d="M482.42,123.11 A4.40,4.40 0 1 1 489.24,117.51 A3.90,3.90 0 1 1 495.74,117.82 A4.60,4.60 0 1 1 502.78,124.05 C501.28,126.90 483.92,126.90 482.42,123.11 Z" fill="#fdfdfd" stroke="#2f62b5" stroke-width="1.5" stroke-linejoin="round"/>
<path d="M494.93,120.57 C496.08,118.04 498.38,117.26 501.14,117.95" fill="none" stroke="#2f62b5" stroke-width="1.5" stroke-linecap="round"/>
<path transform="translate(528.68,0) scale(0.95,1) translate(-4,0)" d="M4,100.9 C-2.5,100.5 -10.0,105.5 -10.0,113.6 C-10.0,121 -3.8,126.3 4,126.6 C0.5,124.5 -2.4,120 -2.2,114.5 C-2,108.5 0.5,104 4,101 Z" fill="none" stroke="#000" stroke-width="1.3" stroke-linejoin="round"/>
<line x1="507.18" x2="541.78" y1="115.7" y2="115.7" stroke="#2d4d74" stroke-width="1.8"/>
<line x1="507.18" x2="541.78" y1="119.3" y2="119.3" stroke="#2d4d74" stroke-width="1.0"/>
<line x1="508.88" x2="540.08" y1="123.5" y2="123.5" stroke="#2d4d74" stroke-width="2.9"/>
<path transform="translate(563.24,0) scale(0.95,1) translate(-4,0)" d="M4,100.9 C-2.5,100.5 -10.0,105.5 -10.0,113.6 C-10.0,121 -3.8,126.3 4,126.6 C0.5,124.5 -2.4,120 -2.2,114.5 C-2,108.5 0.5,104 4,101 Z" fill="none" stroke="#000" stroke-width="1.3" stroke-linejoin="round"/>
<line x1="541.74" x2="576.34" y1="115.7" y2="115.7" stroke="#2d4d74" stroke-width="1.8"/>
<line x1="541.74" x2="576.34" y1="119.3" y2="119.3" stroke="#2d4d74" stroke-width="1.0"/>
<line x1="543.44" x2="574.64" y1="123.5" y2="123.5" stroke="#2d4d74" stroke-width="2.9"/>
<clipPath id="sc593"><rect x="575.6" y="95" width="36" height="22.00"/></clipPath><g clip-path="url(#sc593)"><line x1="586.11" y1="112.28" x2="582.37" y2="111.62" stroke="#f5b324" stroke-width="3.0" stroke-linecap="round"/><line x1="586.11" y1="112.28" x2="582.37" y2="111.62" stroke="#f3e31f" stroke-width="2.0" stroke-linecap="round"/><line x1="589.23" y1="107.37" x2="587.05" y2="104.26" stroke="#f5b324" stroke-width="3.0" stroke-linecap="round"/><line x1="589.23" y1="107.37" x2="587.05" y2="104.26" stroke="#f3e31f" stroke-width="2.0" stroke-linecap="round"/><line x1="594.91" y1="106.12" x2="595.57" y2="102.37" stroke="#f5b324" stroke-width="3.0" stroke-linecap="round"/><line x1="594.91" y1="106.12" x2="595.57" y2="102.37" stroke="#f3e31f" stroke-width="2.0" stroke-linecap="round"/><line x1="599.82" y1="109.24" x2="602.93" y2="107.06" stroke="#f5b324" stroke-width="3.0" stroke-linecap="round"/><line x1="599.82" y1="109.24" x2="602.93" y2="107.06" stroke="#f3e31f" stroke-width="2.0" stroke-linecap="round"/><line x1="601.08" y1="114.92" x2="604.82" y2="115.58" stroke="#f5b324" stroke-width="3.0" stroke-linecap="round"/><line x1="601.08" y1="114.92" x2="604.82" y2="115.58" stroke="#f3e31f" stroke-width="2.0" stroke-linecap="round"/><line x1="597.95" y1="119.83" x2="600.13" y2="122.94" stroke="#f5b324" stroke-width="3.0" stroke-linecap="round"/><line x1="597.95" y1="119.83" x2="600.13" y2="122.94" stroke="#f3e31f" stroke-width="2.0" stroke-linecap="round"/><line x1="592.27" y1="121.08" x2="591.61" y2="124.83" stroke="#f5b324" stroke-width="3.0" stroke-linecap="round"/><line x1="592.27" y1="121.08" x2="591.61" y2="124.83" stroke="#f3e31f" stroke-width="2.0" stroke-linecap="round"/><line x1="587.37" y1="117.96" x2="584.25" y2="120.14" stroke="#f5b324" stroke-width="3.0" stroke-linecap="round"/><line x1="587.37" y1="117.96" x2="584.25" y2="120.14" stroke="#f3e31f" stroke-width="2.0" stroke-linecap="round"/><circle cx="593.59" cy="113.60" r="6.40" fill="#f2e61c" stroke="#f5a623" stroke-width="0.9"/></g>
<rect x="578.09" y="119.6" width="31.5" height="4.6" fill="#cfcfcf"/>
<rect x="590.39" y="118.6" width="6.4" height="1.3" fill="#f2c21e"/><rect x="582.09" y="118.7" width="3" height="1" fill="#f2d21e"/><rect x="589.79" y="122.6" width="2.4" height="1.2" fill="#f2c21e"/><rect x="598.09" y="122.6" width="2.4" height="1.2" fill="#f2c21e"/>
<line x1="576.29" x2="610.89" y1="117.7" y2="117.7" stroke="#5583c1" stroke-width="2.2"/>
<line x1="576.29" x2="610.19" y1="121.2" y2="121.2" stroke="#5583c1" stroke-width="2.1"/>
<line x1="577.59" x2="609.59" y1="125.6" y2="125.5" stroke="#5583c1" stroke-width="3.1"/>
<line x1="623.46" y1="112.28" x2="619.72" y2="111.62" stroke="#f5b324" stroke-width="3.0" stroke-linecap="round"/><line x1="623.46" y1="112.28" x2="619.72" y2="111.62" stroke="#f3e31f" stroke-width="2.0" stroke-linecap="round"/><line x1="626.59" y1="107.37" x2="624.41" y2="104.26" stroke="#f5b324" stroke-width="3.0" stroke-linecap="round"/><line x1="626.59" y1="107.37" x2="624.41" y2="104.26" stroke="#f3e31f" stroke-width="2.0" stroke-linecap="round"/><line x1="632.27" y1="106.12" x2="632.93" y2="102.37" stroke="#f5b324" stroke-width="3.0" stroke-linecap="round"/><line x1="632.27" y1="106.12" x2="632.93" y2="102.37" stroke="#f3e31f" stroke-width="2.0" stroke-linecap="round"/><line x1="637.17" y1="109.24" x2="640.29" y2="107.06" stroke="#f5b324" stroke-width="3.0" stroke-linecap="round"/><line x1="637.17" y1="109.24" x2="640.29" y2="107.06" stroke="#f3e31f" stroke-width="2.0" stroke-linecap="round"/><line x1="638.43" y1="114.92" x2="642.17" y2="115.58" stroke="#f5b324" stroke-width="3.0" stroke-linecap="round"/><line x1="638.43" y1="114.92" x2="642.17" y2="115.58" stroke="#f3e31f" stroke-width="2.0" stroke-linecap="round"/><line x1="635.31" y1="119.83" x2="637.49" y2="122.94" stroke="#f5b324" stroke-width="3.0" stroke-linecap="round"/><line x1="635.31" y1="119.83" x2="637.49" y2="122.94" stroke="#f3e31f" stroke-width="2.0" stroke-linecap="round"/><line x1="629.63" y1="121.08" x2="628.97" y2="124.83" stroke="#f5b324" stroke-width="3.0" stroke-linecap="round"/><line x1="629.63" y1="121.08" x2="628.97" y2="124.83" stroke="#f3e31f" stroke-width="2.0" stroke-linecap="round"/><line x1="624.72" y1="117.96" x2="621.61" y2="120.14" stroke="#f5b324" stroke-width="3.0" stroke-linecap="round"/><line x1="624.72" y1="117.96" x2="621.61" y2="120.14" stroke="#f3e31f" stroke-width="2.0" stroke-linecap="round"/><circle cx="630.95" cy="113.60" r="6.40" fill="#f2e61c" stroke="#f5a623" stroke-width="0.9"/>
<path d="M613.02,124.23 A4.00,4.00 0 0 1 618.39,118.31 A4.20,4.20 0 1 1 626.65,118.59 A4.40,4.40 0 0 1 631.96,125.51 C630.46,127.80 614.52,127.80 613.02,124.23 Z" fill="#d3d3d3" stroke="#2f62b5" stroke-width="1.5" stroke-linejoin="round"/>
<path d="M624.45,122.18 C625.55,119.76 627.75,119.01 630.39,119.67" fill="none" stroke="#2f62b5" stroke-width="1.5" stroke-linecap="round"/>
<path transform="translate(666.90,0) scale(0.95,1) translate(-4,0)" d="M4,100.9 C-2.5,100.5 -10.0,105.5 -10.0,113.6 C-10.0,121 -3.8,126.3 4,126.6 C0.5,124.5 -2.4,120 -2.2,114.5 C-2,108.5 0.5,104 4,101 Z" fill="none" stroke="#000" stroke-width="1.3" stroke-linejoin="round"/>
<line x1="645.40" x2="680.00" y1="115.7" y2="115.7" stroke="#2d4d74" stroke-width="1.8"/>
<line x1="645.40" x2="680.00" y1="119.3" y2="119.3" stroke="#2d4d74" stroke-width="1.0"/>
<line x1="647.10" x2="678.30" y1="123.5" y2="123.5" stroke="#2d4d74" stroke-width="2.9"/>
<path transform="translate(701.46,0) scale(0.95,1) translate(-4,0)" d="M4,100.9 C-2.5,100.5 -10.0,105.5 -10.0,113.6 C-10.0,121 -3.8,126.3 4,126.6 C0.5,124.5 -2.4,120 -2.2,114.5 C-2,108.5 0.5,104 4,101 Z" fill="none" stroke="#000" stroke-width="1.3" stroke-linejoin="round"/>
<line x1="679.96" x2="714.56" y1="115.7" y2="115.7" stroke="#2d4d74" stroke-width="1.8"/>
<line x1="679.96" x2="714.56" y1="119.3" y2="119.3" stroke="#2d4d74" stroke-width="1.0"/>
<line x1="681.66" x2="712.86" y1="123.5" y2="123.5" stroke="#2d4d74" stroke-width="2.9"/>
<clipPath id="sc731"><rect x="713.8" y="95" width="36" height="22.00"/></clipPath><g clip-path="url(#sc731)"><line x1="724.33" y1="112.28" x2="720.59" y2="111.62" stroke="#f5b324" stroke-width="3.0" stroke-linecap="round"/><line x1="724.33" y1="112.28" x2="720.59" y2="111.62" stroke="#f3e31f" stroke-width="2.0" stroke-linecap="round"/><line x1="727.45" y1="107.37" x2="725.27" y2="104.26" stroke="#f5b324" stroke-width="3.0" stroke-linecap="round"/><line x1="727.45" y1="107.37" x2="725.27" y2="104.26" stroke="#f3e31f" stroke-width="2.0" stroke-linecap="round"/><line x1="733.13" y1="106.12" x2="733.79" y2="102.37" stroke="#f5b324" stroke-width="3.0" stroke-linecap="round"/><line x1="733.13" y1="106.12" x2="733.79" y2="102.37" stroke="#f3e31f" stroke-width="2.0" stroke-linecap="round"/><line x1="738.04" y1="109.24" x2="741.15" y2="107.06" stroke="#f5b324" stroke-width="3.0" stroke-linecap="round"/><line x1="738.04" y1="109.24" x2="741.15" y2="107.06" stroke="#f3e31f" stroke-width="2.0" stroke-linecap="round"/><line x1="739.30" y1="114.92" x2="743.04" y2="115.58" stroke="#f5b324" stroke-width="3.0" stroke-linecap="round"/><line x1="739.30" y1="114.92" x2="743.04" y2="115.58" stroke="#f3e31f" stroke-width="2.0" stroke-linecap="round"/><line x1="736.17" y1="119.83" x2="738.35" y2="122.94" stroke="#f5b324" stroke-width="3.0" stroke-linecap="round"/><line x1="736.17" y1="119.83" x2="738.35" y2="122.94" stroke="#f3e31f" stroke-width="2.0" stroke-linecap="round"/><line x1="730.49" y1="121.08" x2="729.83" y2="124.83" stroke="#f5b324" stroke-width="3.0" stroke-linecap="round"/><line x1="730.49" y1="121.08" x2="729.83" y2="124.83" stroke="#f3e31f" stroke-width="2.0" stroke-linecap="round"/><line x1="725.59" y1="117.96" x2="722.47" y2="120.14" stroke="#f5b324" stroke-width="3.0" stroke-linecap="round"/><line x1="725.59" y1="117.96" x2="722.47" y2="120.14" stroke="#f3e31f" stroke-width="2.0" stroke-linecap="round"/><circle cx="731.81" cy="113.60" r="6.40" fill="#f2e61c" stroke="#f5a623" stroke-width="0.9"/></g>
<rect x="716.31" y="119.6" width="31.5" height="4.6" fill="#cfcfcf"/>
<rect x="728.61" y="118.6" width="6.4" height="1.3" fill="#f2c21e"/><rect x="720.31" y="118.7" width="3" height="1" fill="#f2d21e"/><rect x="728.01" y="122.6" width="2.4" height="1.2" fill="#f2c21e"/><rect x="736.31" y="122.6" width="2.4" height="1.2" fill="#f2c21e"/>
<line x1="714.51" x2="749.11" y1="117.7" y2="117.7" stroke="#5583c1" stroke-width="2.2"/>
<line x1="714.51" x2="748.41" y1="121.2" y2="121.2" stroke="#5583c1" stroke-width="2.1"/>
<line x1="715.81" x2="747.81" y1="125.6" y2="125.5" stroke="#5583c1" stroke-width="3.1"/>
<clipPath id="sc766"><rect x="748.4" y="95" width="36" height="22.00"/></clipPath><g clip-path="url(#sc766)"><line x1="758.88" y1="112.28" x2="755.14" y2="111.62" stroke="#f5b324" stroke-width="3.0" stroke-linecap="round"/><line x1="758.88" y1="112.28" x2="755.14" y2="111.62" stroke="#f3e31f" stroke-width="2.0" stroke-linecap="round"/><line x1="762.01" y1="107.37" x2="759.83" y2="104.26" stroke="#f5b324" stroke-width="3.0" stroke-linecap="round"/><line x1="762.01" y1="107.37" x2="759.83" y2="104.26" stroke="#f3e31f" stroke-width="2.0" stroke-linecap="round"/><line x1="767.69" y1="106.12" x2="768.35" y2="102.37" stroke="#f5b324" stroke-width="3.0" stroke-linecap="round"/><line x1="767.69" y1="106.12" x2="768.35" y2="102.37" stroke="#f3e31f" stroke-width="2.0" stroke-linecap="round"/><line x1="772.59" y1="109.24" x2="775.71" y2="107.06" stroke="#f5b324" stroke-width="3.0" stroke-linecap="round"/><line x1="772.59" y1="109.24" x2="775.71" y2="107.06" stroke="#f3e31f" stroke-width="2.0" stroke-linecap="round"/><line x1="773.85" y1="114.92" x2="777.59" y2="115.58" stroke="#f5b324" stroke-width="3.0" stroke-linecap="round"/><line x1="773.85" y1="114.92" x2="777.59" y2="115.58" stroke="#f3e31f" stroke-width="2.0" stroke-linecap="round"/><line x1="770.73" y1="119.83" x2="772.91" y2="122.94" stroke="#f5b324" stroke-width="3.0" stroke-linecap="round"/><line x1="770.73" y1="119.83" x2="772.91" y2="122.94" stroke="#f3e31f" stroke-width="2.0" stroke-linecap="round"/><line x1="765.05" y1="121.08" x2="764.39" y2="124.83" stroke="#f5b324" stroke-width="3.0" stroke-linecap="round"/><line x1="765.05" y1="121.08" x2="764.39" y2="124.83" stroke="#f3e31f" stroke-width="2.0" stroke-linecap="round"/><line x1="760.14" y1="117.96" x2="757.03" y2="120.14" stroke="#f5b324" stroke-width="3.0" stroke-linecap="round"/><line x1="760.14" y1="117.96" x2="757.03" y2="120.14" stroke="#f3e31f" stroke-width="2.0" stroke-linecap="round"/><circle cx="766.37" cy="113.60" r="6.40" fill="#f2e61c" stroke="#f5a623" stroke-width="0.9"/></g>
<rect x="750.87" y="119.6" width="31.5" height="4.6" fill="#cfcfcf"/>
<rect x="763.17" y="118.6" width="6.4" height="1.3" fill="#f2c21e"/><rect x="754.87" y="118.7" width="3" height="1" fill="#f2d21e"/><rect x="762.57" y="122.6" width="2.4" height="1.2" fill="#f2c21e"/><rect x="770.87" y="122.6" width="2.4" height="1.2" fill="#f2c21e"/>
<line x1="749.07" x2="783.67" y1="117.7" y2="117.7" stroke="#5583c1" stroke-width="2.2"/>
<line x1="749.07" x2="782.97" y1="121.2" y2="121.2" stroke="#5583c1" stroke-width="2.1"/>
<line x1="750.37" x2="782.37" y1="125.6" y2="125.5" stroke="#5583c1" stroke-width="3.1"/>
<path transform="translate(805.12,0) scale(0.95,1) translate(-4,0)" d="M4,100.9 C-2.5,100.5 -10.0,105.5 -10.0,113.6 C-10.0,121 -3.8,126.3 4,126.6 C0.5,124.5 -2.4,120 -2.2,114.5 C-2,108.5 0.5,104 4,101 Z" fill="none" stroke="#000" stroke-width="1.3" stroke-linejoin="round"/>
<line x1="783.62" x2="818.22" y1="115.7" y2="115.7" stroke="#2d4d74" stroke-width="1.8"/>
<line x1="783.62" x2="818.22" y1="119.3" y2="119.3" stroke="#2d4d74" stroke-width="1.0"/>
<line x1="785.32" x2="816.52" y1="123.5" y2="123.5" stroke="#2d4d74" stroke-width="2.9"/>
<path transform="translate(839.68,0) scale(0.95,1) translate(-4,0)" d="M4,100.9 C-2.5,100.5 -10.0,105.5 -10.0,113.6 C-10.0,121 -3.8,126.3 4,126.6 C0.5,124.5 -2.4,120 -2.2,114.5 C-2,108.5 0.5,104 4,101 Z" fill="none" stroke="#000" stroke-width="1.3" stroke-linejoin="round"/>
<line x1="818.18" x2="852.78" y1="115.7" y2="115.7" stroke="#2d4d74" stroke-width="1.8"/>
<line x1="818.18" x2="852.78" y1="119.3" y2="119.3" stroke="#2d4d74" stroke-width="1.0"/>
<line x1="819.88" x2="851.08" y1="123.5" y2="123.5" stroke="#2d4d74" stroke-width="2.9"/>
<path d="M855.10,121.33 A5.70,5.70 0 1 1 863.28,113.39 A5.90,5.90 0 1 1 874.43,110.92 A6.40,6.40 0 1 1 884.26,119.03 C882.76,125.00 856.60,125.00 855.10,121.33 Z" fill="#d3d3d3" stroke="#2f62b5" stroke-width="1.5" stroke-linejoin="round"/>
<path d="M862.52,123.11 A4.40,4.40 0 1 1 869.34,117.51 A3.90,3.90 0 1 1 875.84,117.82 A4.60,4.60 0 1 1 882.89,124.05 C881.39,126.90 864.02,126.90 862.52,123.11 Z" fill="#fdfdfd" stroke="#2f62b5" stroke-width="1.5" stroke-linejoin="round"/>
<path d="M875.03,120.57 C876.18,118.04 878.48,117.26 881.24,117.95" fill="none" stroke="#2f62b5" stroke-width="1.5" stroke-linecap="round"/>
<line x1="899.90" y1="112.28" x2="896.16" y2="111.62" stroke="#f5b324" stroke-width="3.0" stroke-linecap="round"/><line x1="899.90" y1="112.28" x2="896.16" y2="111.62" stroke="#f3e31f" stroke-width="2.0" stroke-linecap="round"/><line x1="903.03" y1="107.37" x2="900.85" y2="104.26" stroke="#f5b324" stroke-width="3.0" stroke-linecap="round"/><line x1="903.03" y1="107.37" x2="900.85" y2="104.26" stroke="#f3e31f" stroke-width="2.0" stroke-linecap="round"/><line x1="908.71" y1="106.12" x2="909.37" y2="102.37" stroke="#f5b324" stroke-width="3.0" stroke-linecap="round"/><line x1="908.71" y1="106.12" x2="909.37" y2="102.37" stroke="#f3e31f" stroke-width="2.0" stroke-linecap="round"/><line x1="913.61" y1="109.24" x2="916.73" y2="107.06" stroke="#f5b324" stroke-width="3.0" stroke-linecap="round"/><line x1="913.61" y1="109.24" x2="916.73" y2="107.06" stroke="#f3e31f" stroke-width="2.0" stroke-linecap="round"/><line x1="914.87" y1="114.92" x2="918.61" y2="115.58" stroke="#f5b324" stroke-width="3.0" stroke-linecap="round"/><line x1="914.87" y1="114.92" x2="918.61" y2="115.58" stroke="#f3e31f" stroke-width="2.0" stroke-linecap="round"/><line x1="911.75" y1="119.83" x2="913.93" y2="122.94" stroke="#f5b324" stroke-width="3.0" stroke-linecap="round"/><line x1="911.75" y1="119.83" x2="913.93" y2="122.94" stroke="#f3e31f" stroke-width="2.0" stroke-linecap="round"/><line x1="906.07" y1="121.08" x2="905.41" y2="124.83" stroke="#f5b324" stroke-width="3.0" stroke-linecap="round"/><line x1="906.07" y1="121.08" x2="905.41" y2="124.83" stroke="#f3e31f" stroke-width="2.0" stroke-linecap="round"/><line x1="901.16" y1="117.96" x2="898.05" y2="120.14" stroke="#f5b324" stroke-width="3.0" stroke-linecap="round"/><line x1="901.16" y1="117.96" x2="898.05" y2="120.14" stroke="#f3e31f" stroke-width="2.0" stroke-linecap="round"/><circle cx="907.39" cy="113.60" r="6.40" fill="#f2e61c" stroke="#f5a623" stroke-width="0.9"/>
<path d="M889.46,124.23 A4.00,4.00 0 0 1 894.83,118.31 A4.20,4.20 0 1 1 903.09,118.59 A4.40,4.40 0 0 1 908.40,125.51 C906.90,127.80 890.96,127.80 889.46,124.23 Z" fill="#d3d3d3" stroke="#2f62b5" stroke-width="1.5" stroke-linejoin="round"/>
<path d="M900.89,122.18 C901.99,119.76 904.19,119.01 906.83,119.67" fill="none" stroke="#2f62b5" stroke-width="1.5" stroke-linecap="round"/>
<path transform="translate(939.34,0) scale(0.95,1) translate(-4,0)" d="M4,100.9 C-2.5,100.5 -10.0,105.5 -10.0,113.6 C-10.0,121 -3.8,126.3 4,126.6 C0.5,124.5 -2.4,120 -2.2,114.5 C-2,108.5 0.5,104 4,101 Z" fill="none" stroke="#000" stroke-width="1.3" stroke-linejoin="round"/>
<path d="M931.97,123.77 A4.20,4.20 0 1 1 938.63,118.42 A4.80,4.80 0 1 1 947.55,116.63 A4.40,4.40 0 0 1 952.55,123.71 C951.05,127.10 933.47,127.10 931.97,123.77 Z" fill="#d3d3d3" stroke="#2d4d74" stroke-width="1.5" stroke-linejoin="round"/>
<path d="M945.04,120.38 C946.14,117.96 948.34,117.21 950.98,117.87" fill="none" stroke="#2d4d74" stroke-width="1.5" stroke-linecap="round"/>
<path transform="translate(977.90,0) scale(0.95,1) translate(-4,0)" d="M4,100.9 C-2.5,100.5 -10.0,105.5 -10.0,113.6 C-10.0,121 -3.8,126.3 4,126.6 C0.5,124.5 -2.4,120 -2.2,114.5 C-2,108.5 0.5,104 4,101 Z" fill="none" stroke="#000" stroke-width="1.3" stroke-linejoin="round"/>
<line x1="956.40" x2="991.00" y1="115.7" y2="115.7" stroke="#2d4d74" stroke-width="1.8"/>
<line x1="956.40" x2="991.00" y1="119.3" y2="119.3" stroke="#2d4d74" stroke-width="1.0"/>
<line x1="958.10" x2="989.30" y1="123.5" y2="123.5" stroke="#2d4d74" stroke-width="2.9"/>
<clipPath id="sc1008"><rect x="990.3" y="95" width="36" height="22.00"/></clipPath><g clip-path="url(#sc1008)"><line x1="1000.77" y1="112.28" x2="997.03" y2="111.62" stroke="#f5b324" stroke-width="3.0" stroke-linecap="round"/><line x1="1000.77" y1="112.28" x2="997.03" y2="111.62" stroke="#f3e31f" stroke-width="2.0" stroke-linecap="round"/><line x1="1003.89" y1="107.37" x2="1001.71" y2="104.26" stroke="#f5b324" stroke-width="3.0" stroke-linecap="round"/><line x1="1003.89" y1="107.37" x2="1001.71" y2="104.26" stroke="#f3e31f" stroke-width="2.0" stroke-linecap="round"/><line x1="1009.57" y1="106.12" x2="1010.23" y2="102.37" stroke="#f5b324" stroke-width="3.0" stroke-linecap="round"/><line x1="1009.57" y1="106.12" x2="1010.23" y2="102.37" stroke="#f3e31f" stroke-width="2.0" stroke-linecap="round"/><line x1="1014.48" y1="109.24" x2="1017.59" y2="107.06" stroke="#f5b324" stroke-width="3.0" stroke-linecap="round"/><line x1="1014.48" y1="109.24" x2="1017.59" y2="107.06" stroke="#f3e31f" stroke-width="2.0" stroke-linecap="round"/><line x1="1015.74" y1="114.92" x2="1019.48" y2="115.58" stroke="#f5b324" stroke-width="3.0" stroke-linecap="round"/><line x1="1015.74" y1="114.92" x2="1019.48" y2="115.58" stroke="#f3e31f" stroke-width="2.0" stroke-linecap="round"/><line x1="1012.61" y1="119.83" x2="1014.79" y2="122.94" stroke="#f5b324" stroke-width="3.0" stroke-linecap="round"/><line x1="1012.61" y1="119.83" x2="1014.79" y2="122.94" stroke="#f3e31f" stroke-width="2.0" stroke-linecap="round"/><line x1="1006.93" y1="121.08" x2="1006.27" y2="124.83" stroke="#f5b324" stroke-width="3.0" stroke-linecap="round"/><line x1="1006.93" y1="121.08" x2="1006.27" y2="124.83" stroke="#f3e31f" stroke-width="2.0" stroke-linecap="round"/><line x1="1002.03" y1="117.96" x2="998.91" y2="120.14" stroke="#f5b324" stroke-width="3.0" stroke-linecap="round"/><line x1="1002.03" y1="117.96" x2="998.91" y2="120.14" stroke="#f3e31f" stroke-width="2.0" stroke-linecap="round"/><circle cx="1008.25" cy="113.60" r="6.40" fill="#f2e61c" stroke="#f5a623" stroke-width="0.9"/></g>
<rect x="992.75" y="119.6" width="31.5" height="4.6" fill="#cfcfcf"/>
<rect x="1005.05" y="118.6" width="6.4" height="1.3" fill="#f2c21e"/><rect x="996.75" y="118.7" width="3" height="1" fill="#f2d21e"/><rect x="1004.45" y="122.6" width="2.4" height="1.2" fill="#f2c21e"/><rect x="1012.75" y="122.6" width="2.4" height="1.2" fill="#f2c21e"/>
<line x1="990.95" x2="1025.55" y1="117.7" y2="117.7" stroke="#5583c1" stroke-width="2.2"/>
<line x1="990.95" x2="1024.85" y1="121.2" y2="121.2" stroke="#5583c1" stroke-width="2.1"/>
<line x1="992.25" x2="1024.25" y1="125.6" y2="125.5" stroke="#5583c1" stroke-width="3.1"/>
<line x1="1038.12" y1="112.28" x2="1034.38" y2="111.62" stroke="#f5b324" stroke-width="3.0" stroke-linecap="round"/><line x1="1038.12" y1="112.28" x2="1034.38" y2="111.62" stroke="#f3e31f" stroke-width="2.0" stroke-linecap="round"/><line x1="1041.25" y1="107.37" x2="1039.07" y2="104.26" stroke="#f5b324" stroke-width="3.0" stroke-linecap="round"/><line x1="1041.25" y1="107.37" x2="1039.07" y2="104.26" stroke="#f3e31f" stroke-width="2.0" stroke-linecap="round"/><line x1="1046.93" y1="106.12" x2="1047.59" y2="102.37" stroke="#f5b324" stroke-width="3.0" stroke-linecap="round"/><line x1="1046.93" y1="106.12" x2="1047.59" y2="102.37" stroke="#f3e31f" stroke-width="2.0" stroke-linecap="round"/><line x1="1051.83" y1="109.24" x2="1054.95" y2="107.06" stroke="#f5b324" stroke-width="3.0" stroke-linecap="round"/><line x1="1051.83" y1="109.24" x2="1054.95" y2="107.06" stroke="#f3e31f" stroke-width="2.0" stroke-linecap="round"/><line x1="1053.09" y1="114.92" x2="1056.83" y2="115.58" stroke="#f5b324" stroke-width="3.0" stroke-linecap="round"/><line x1="1053.09" y1="114.92" x2="1056.83" y2="115.58" stroke="#f3e31f" stroke-width="2.0" stroke-linecap="round"/><line x1="1049.97" y1="119.83" x2="1052.15" y2="122.94" stroke="#f5b324" stroke-width="3.0" stroke-linecap="round"/><line x1="1049.97" y1="119.83" x2="1052.15" y2="122.94" stroke="#f3e31f" stroke-width="2.0" stroke-linecap="round"/><line x1="1044.29" y1="121.08" x2="1043.63" y2="124.83" stroke="#f5b324" stroke-width="3.0" stroke-linecap="round"/><line x1="1044.29" y1="121.08" x2="1043.63" y2="124.83" stroke="#f3e31f" stroke-width="2.0" stroke-linecap="round"/><line x1="1039.38" y1="117.96" x2="1036.27" y2="120.14" stroke="#f5b324" stroke-width="3.0" stroke-linecap="round"/><line x1="1039.38" y1="117.96" x2="1036.27" y2="120.14" stroke="#f3e31f" stroke-width="2.0" stroke-linecap="round"/><circle cx="1045.61" cy="113.60" r="6.40" fill="#f2e61c" stroke="#f5a623" stroke-width="0.9"/>
<path d="M1027.68,124.23 A4.00,4.00 0 0 1 1033.05,118.31 A4.20,4.20 0 1 1 1041.31,118.59 A4.40,4.40 0 0 1 1046.62,125.51 C1045.12,127.80 1029.18,127.80 1027.68,124.23 Z" fill="#d3d3d3" stroke="#2f62b5" stroke-width="1.5" stroke-linejoin="round"/>
<path d="M1039.11,122.18 C1040.21,119.76 1042.41,119.01 1045.05,119.67" fill="none" stroke="#2f62b5" stroke-width="1.5" stroke-linecap="round"/>
<path transform="translate(1077.56,0) scale(0.95,1) translate(-4,0)" d="M4,100.9 C-2.5,100.5 -10.0,105.5 -10.0,113.6 C-10.0,121 -3.8,126.3 4,126.6 C0.5,124.5 -2.4,120 -2.2,114.5 C-2,108.5 0.5,104 4,101 Z" fill="none" stroke="#000" stroke-width="1.3" stroke-linejoin="round"/>
<path d="M1070.19,123.77 A4.20,4.20 0 1 1 1076.85,118.42 A4.80,4.80 0 1 1 1085.77,116.63 A4.40,4.40 0 0 1 1090.77,123.71 C1089.27,127.10 1071.69,127.10 1070.19,123.77 Z" fill="#d3d3d3" stroke="#2d4d74" stroke-width="1.5" stroke-linejoin="round"/>
<path d="M1083.26,120.38 C1084.36,117.96 1086.56,117.21 1089.20,117.87" fill="none" stroke="#2d4d74" stroke-width="1.5" stroke-linecap="round"/>
<circle cx="126.80" cy="153.0" r="3.5" fill="none" stroke="#000" stroke-width="2.1"/>
<circle cx="144.08" cy="153.0" r="3.5" fill="none" stroke="#000" stroke-width="2.1"/>
<circle cx="161.35" cy="153.0" r="3.5" fill="none" stroke="#000" stroke-width="2.1"/>
<circle cx="178.63" cy="153.0" r="3.5" fill="none" stroke="#000" stroke-width="2.1"/>
<circle cx="195.91" cy="153.0" r="3.5" fill="none" stroke="#000" stroke-width="2.1"/>
<circle cx="213.19" cy="153.0" r="3.5" fill="none" stroke="#000" stroke-width="2.1"/>
<circle cx="230.46" cy="153.0" r="3.5" fill="none" stroke="#000" stroke-width="2.1"/>
<circle cx="247.74" cy="153.0" r="3.5" fill="none" stroke="#000" stroke-width="2.1"/>
<circle cx="265.02" cy="153.0" r="3.5" fill="none" stroke="#000" stroke-width="2.1"/>
<circle cx="282.30" cy="153.0" r="3.5" fill="none" stroke="#000" stroke-width="2.1"/>
<circle cx="299.57" cy="153.0" r="3.5" fill="none" stroke="#000" stroke-width="2.1"/>
<circle cx="316.85" cy="153.0" r="3.5" fill="none" stroke="#000" stroke-width="2.1"/>
<circle cx="334.13" cy="153.0" r="3.5" fill="none" stroke="#000" stroke-width="2.1"/>
<circle cx="351.41" cy="153.0" r="3.5" fill="none" stroke="#000" stroke-width="2.1"/>
<circle cx="368.69" cy="153.0" r="3.5" fill="none" stroke="#000" stroke-width="2.1"/>
<circle cx="385.96" cy="153.0" r="3.5" fill="none" stroke="#000" stroke-width="2.1"/>
<circle cx="403.24" cy="153.0" r="3.5" fill="none" stroke="#000" stroke-width="2.1"/>
<circle cx="420.52" cy="153.0" r="3.5" fill="none" stroke="#000" stroke-width="2.1"/>
<circle cx="437.80" cy="153.0" r="3.5" fill="none" stroke="#000" stroke-width="2.1"/>
<circle cx="455.07" cy="153.0" r="3.5" fill="none" stroke="#000" stroke-width="2.1"/>
<circle cx="472.35" cy="153.0" r="3.5" fill="none" stroke="#000" stroke-width="2.1"/>
<circle cx="489.63" cy="153.0" r="3.5" fill="none" stroke="#000" stroke-width="2.1"/>
<circle cx="506.90" cy="153.0" r="3.5" fill="none" stroke="#000" stroke-width="2.1"/>
<circle cx="524.18" cy="153.0" r="3.5" fill="none" stroke="#000" stroke-width="2.1"/>
<circle cx="541.46" cy="153.0" r="3.5" fill="none" stroke="#000" stroke-width="2.1"/>
<circle cx="558.74" cy="153.0" r="3.5" fill="none" stroke="#000" stroke-width="2.1"/>
<circle cx="576.01" cy="153.0" r="3.5" fill="none" stroke="#000" stroke-width="2.1"/>
<circle cx="593.29" cy="153.0" r="3.5" fill="none" stroke="#000" stroke-width="2.1"/>
<circle cx="610.57" cy="153.0" r="3.5" fill="none" stroke="#000" stroke-width="2.1"/>
<circle cx="627.85" cy="153.0" r="3.5" fill="none" stroke="#000" stroke-width="2.1"/>
<circle cx="645.12" cy="153.0" r="3.5" fill="none" stroke="#000" stroke-width="2.1"/>
<circle cx="662.40" cy="153.0" r="3.5" fill="none" stroke="#000" stroke-width="2.1"/>
<circle cx="679.68" cy="153.0" r="3.5" fill="none" stroke="#000" stroke-width="2.1"/>
<circle cx="696.96" cy="153.0" r="3.5" fill="none" stroke="#000" stroke-width="2.1"/>
<circle cx="714.24" cy="153.0" r="3.5" fill="none" stroke="#000" stroke-width="2.1"/>
<circle cx="731.51" cy="153.0" r="3.5" fill="none" stroke="#000" stroke-width="2.1"/>
<circle cx="748.79" cy="153.0" r="3.5" fill="none" stroke="#000" stroke-width="2.1"/>
<circle cx="766.07" cy="153.0" r="3.5" fill="none" stroke="#000" stroke-width="2.1"/>
<circle cx="783.35" cy="153.0" r="3.5" fill="none" stroke="#000" stroke-width="2.1"/>
<circle cx="800.62" cy="153.0" r="3.5" fill="none" stroke="#000" stroke-width="2.1"/>
<circle cx="817.90" cy="153.0" r="3.5" fill="none" stroke="#000" stroke-width="2.1"/>
<circle cx="835.18" cy="153.0" r="3.5" fill="none" stroke="#000" stroke-width="2.1"/>
<circle cx="852.46" cy="153.0" r="3.5" fill="none" stroke="#000" stroke-width="2.1"/>
<circle cx="869.73" cy="153.0" r="3.5" fill="none" stroke="#000" stroke-width="2.1"/>
<circle cx="887.01" cy="153.0" r="3.5" fill="none" stroke="#000" stroke-width="2.1"/>
<circle cx="904.29" cy="153.0" r="3.5" fill="none" stroke="#000" stroke-width="2.1"/>
<circle cx="921.57" cy="153.0" r="3.5" fill="none" stroke="#000" stroke-width="2.1"/>
<circle cx="938.84" cy="153.0" r="3.5" fill="none" stroke="#000" stroke-width="2.1"/>
<circle cx="956.12" cy="153.0" r="3.5" fill="none" stroke="#000" stroke-width="2.1"/>
<circle cx="973.40" cy="153.0" r="3.5" fill="none" stroke="#000" stroke-width="2.1"/>
<circle cx="990.68" cy="153.0" r="3.5" fill="none" stroke="#000" stroke-width="2.1"/>
<circle cx="1007.95" cy="153.0" r="3.5" fill="none" stroke="#000" stroke-width="2.1"/>
<circle cx="1025.23" cy="153.0" r="3.5" fill="none" stroke="#000" stroke-width="2.1"/>
<circle cx="1042.51" cy="153.0" r="3.5" fill="none" stroke="#000" stroke-width="2.1"/>
<circle cx="1059.78" cy="153.0" r="3.5" fill="none" stroke="#000" stroke-width="2.1"/>
<circle cx="1077.06" cy="153.0" r="3.5" fill="none" stroke="#000" stroke-width="2.1"/>
<circle cx="1094.34" cy="153.0" r="3.5" fill="none" stroke="#000" stroke-width="2.1"/>
<text transform="translate(124.20,364.95) scale(1.14,1)" font-size="18.0" text-anchor="end" fill="#000" >0</text>
<text transform="translate(124.20,327.70) scale(1.14,1)" font-size="18.0" text-anchor="end" fill="#000" >1</text>
<text transform="translate(124.20,290.45) scale(1.14,1)" font-size="18.0" text-anchor="end" fill="#000" >2</text>
<text transform="translate(124.20,253.20) scale(1.14,1)" font-size="18.0" text-anchor="end" fill="#000" >3</text>
<text transform="translate(124.20,215.95) scale(1.14,1)" font-size="18.0" text-anchor="end" fill="#000" >4</text>
<text transform="translate(124.20,178.70) scale(1.14,1)" font-size="18.0" text-anchor="end" fill="#000" >5</text>
<text transform="translate(45.60,364.95) scale(1.14,1)" font-size="18.0" text-anchor="start" fill="#ff0000" >-5</text>
<text transform="translate(45.60,327.70) scale(1.14,1)" font-size="18.0" text-anchor="start" fill="#ff0000" >-1</text>
<text transform="translate(45.60,290.45) scale(1.14,1)" font-size="18.0" text-anchor="start" fill="#ff0000" >3</text>
<text transform="translate(45.60,253.20) scale(1.14,1)" font-size="18.0" text-anchor="start" fill="#ff0000" >7</text>
<text transform="translate(45.60,215.95) scale(1.14,1)" font-size="18.0" text-anchor="start" fill="#ff0000" >11</text>
<text transform="translate(45.60,178.70) scale(1.14,1)" font-size="18.0" text-anchor="start" fill="#ff0000" >15</text>
<text transform="translate(1098.60,364.95) scale(1.14,1)" font-size="18.0" text-anchor="start" fill="#000" >0</text>
<text transform="translate(1098.60,327.70) scale(1.14,1)" font-size="18.0" text-anchor="start" fill="#000" >1.5</text>
<text transform="translate(1098.60,290.45) scale(1.14,1)" font-size="18.0" text-anchor="start" fill="#000" >3.5</text>
<text transform="translate(1098.60,253.20) scale(1.14,1)" font-size="18.0" text-anchor="start" fill="#000" >6.0</text>
<text transform="translate(1098.60,215.95) scale(1.14,1)" font-size="18.0" text-anchor="start" fill="#000" >9.0</text>
<text transform="translate(1098.60,178.70) scale(1.14,1)" font-size="18.0" text-anchor="start" fill="#000" >14</text>
<text transform="translate(35.10,267.30) rotate(-90) scale(1.044,1)" font-size="20.8" text-anchor="middle" fill="#ff0000" >Temperatura (°C)</text>
<text transform="translate(100.10,264.00) rotate(-90) scale(1.049,1)" font-size="20.8" text-anchor="middle" fill="#000" >Padavine (mm/h)</text>
<text transform="translate(1144.60,254.50) rotate(-90) scale(1.054,1)" font-size="20.8" text-anchor="middle" fill="#000" >Višina oblakov (km)</text>
<text transform="translate(161.66,376.40) scale(1.17,1)" font-size="16.3" text-anchor="middle" fill="#000" >06</text>
<text transform="translate(196.21,376.40) scale(1.17,1)" font-size="16.3" text-anchor="middle" fill="#000" >12</text>
<text transform="translate(230.76,376.40) scale(1.17,1)" font-size="16.3" text-anchor="middle" fill="#000" >18</text>
<text transform="translate(299.88,376.40) scale(1.17,1)" font-size="16.3" text-anchor="middle" fill="#000" >06</text>
<text transform="translate(334.43,376.40) scale(1.17,1)" font-size="16.3" text-anchor="middle" fill="#000" >12</text>
<text transform="translate(368.99,376.40) scale(1.17,1)" font-size="16.3" text-anchor="middle" fill="#000" >18</text>
<text transform="translate(265.32,376.40) scale(1.17,1)" font-size="16.3" text-anchor="middle" fill="#000" >sob</text>
<text transform="translate(438.09,376.40) scale(1.17,1)" font-size="16.3" text-anchor="middle" fill="#000" >06</text>
<text transform="translate(472.65,376.40) scale(1.17,1)" font-size="16.3" text-anchor="middle" fill="#000" >12</text>
<text transform="translate(507.20,376.40) scale(1.17,1)" font-size="16.3" text-anchor="middle" fill="#000" >18</text>
<text transform="translate(403.54,376.40) scale(1.17,1)" font-size="16.3" text-anchor="middle" fill="#000" >ned</text>
<text transform="translate(576.31,376.40) scale(1.17,1)" font-size="16.3" text-anchor="middle" fill="#000" >06</text>
<text transform="translate(610.87,376.40) scale(1.17,1)" font-size="16.3" text-anchor="middle" fill="#000" >12</text>
<text transform="translate(645.42,376.40) scale(1.17,1)" font-size="16.3" text-anchor="middle" fill="#000" >18</text>
<text transform="translate(541.76,376.40) scale(1.17,1)" font-size="16.3" text-anchor="middle" fill="#000" >pon</text>
<text transform="translate(714.53,376.40) scale(1.17,1)" font-size="16.3" text-anchor="middle" fill="#000" >06</text>
<text transform="translate(749.09,376.40) scale(1.17,1)" font-size="16.3" text-anchor="middle" fill="#000" >12</text>
<text transform="translate(783.64,376.40) scale(1.17,1)" font-size="16.3" text-anchor="middle" fill="#000" >18</text>
<text transform="translate(679.98,376.40) scale(1.17,1)" font-size="16.3" text-anchor="middle" fill="#000" >tor</text>
<text transform="translate(852.75,376.40) scale(1.17,1)" font-size="16.3" text-anchor="middle" fill="#000" >06</text>
<text transform="translate(887.31,376.40) scale(1.17,1)" font-size="16.3" text-anchor="middle" fill="#000" >12</text>
<text transform="translate(921.87,376.40) scale(1.17,1)" font-size="16.3" text-anchor="middle" fill="#000" >18</text>
<text transform="translate(818.20,376.40) scale(1.17,1)" font-size="16.3" text-anchor="middle" fill="#000" >sre</text>
<text transform="translate(990.97,376.40) scale(1.17,1)" font-size="16.3" text-anchor="middle" fill="#000" >06</text>
<text transform="translate(1025.53,376.40) scale(1.17,1)" font-size="16.3" text-anchor="middle" fill="#000" >12</text>
<text transform="translate(1060.09,376.40) scale(1.17,1)" font-size="16.3" text-anchor="middle" fill="#000" >18</text>
<text transform="translate(956.42,376.40) scale(1.17,1)" font-size="16.3" text-anchor="middle" fill="#000" >čet</text>
<text transform="translate(196.21,68.90) scale(1.14,1)" font-size="18.0" text-anchor="middle" fill="#000" >petek</text>
<text transform="translate(196.21,90.80) scale(1.14,1)" font-size="18.0" text-anchor="middle" fill="#000" >12.12</text>
<text transform="translate(334.43,68.90) scale(1.14,1)" font-size="18.0" text-anchor="middle" fill="#cc0000" >sobota</text>
<text transform="translate(334.43,90.80) scale(1.14,1)" font-size="18.0" text-anchor="middle" fill="#cc0000" >13.12</text>
<text transform="translate(472.65,68.90) scale(1.14,1)" font-size="18.0" text-anchor="middle" fill="#cc0000" >nedelja</text>
<text transform="translate(472.65,90.80) scale(1.14,1)" font-size="18.0" text-anchor="middle" fill="#cc0000" >14.12</text>
<text transform="translate(610.87,68.90) scale(1.14,1)" font-size="18.0" text-anchor="middle" fill="#000" >ponedeljek</text>
<text transform="translate(610.87,90.80) scale(1.14,1)" font-size="18.0" text-anchor="middle" fill="#000" >15.12</text>
<text transform="translate(749.09,68.90) scale(1.14,1)" font-size="18.0" text-anchor="middle" fill="#000" >torek</text>
<text transform="translate(749.09,90.80) scale(1.14,1)" font-size="18.0" text-anchor="middle" fill="#000" >16.12</text>
<text transform="translate(887.31,68.90) scale(1.14,1)" font-size="18.0" text-anchor="middle" fill="#000" >sreda</text>
<text transform="translate(887.31,90.80) scale(1.14,1)" font-size="18.0" text-anchor="middle" fill="#000" >17.12</text>
<text transform="translate(1025.53,68.90) scale(1.14,1)" font-size="18.0" text-anchor="middle" fill="#000" >četrtek</text>
<text transform="translate(1025.53,90.80) scale(1.14,1)" font-size="18.0" text-anchor="middle" fill="#000" >18.12</text>
<rect x="127.2" y="390.3" width="31.8" height="11" fill="#0050f0"/>
<rect x="165.3" y="386.2" width="104.7" height="19.2" fill="#fff"/>
<rect x="278" y="390.3" width="32" height="11" fill="#10d8c8"/>
<rect x="310" y="386.2" width="110" height="19.2" fill="#fff"/>
<rect x="757" y="386.2" width="183" height="19.2" fill="#fff"/>
<text transform="translate(168.20,402.00) scale(1.07,1)" font-size="19" text-anchor="start" fill="#000" >Dež</text>
<text transform="translate(318.80,402.00) scale(1.02,1)" font-size="19" text-anchor="start" fill="#000" >Možnost ploh</text>
<text transform="translate(759.30,402.00) scale(1.02,1)" font-size="19" text-anchor="start" fill="#000" >Gostota oblakov (%)</text>
<text transform="translate(500.00,402.00) scale(1.0,1)" font-size="16" text-anchor="start" fill="#0000ff" >© vreme.us &amp; vreme.pro</text>
<rect x="949.30" y="385.4" width="29.38" height="13.2" fill="#d2d2d2"/>
<rect x="978.38" y="385.4" width="29.38" height="13.2" fill="#b2b2b2"/>
<rect x="1007.46" y="385.4" width="29.38" height="13.2" fill="#939393"/>
<rect x="1036.54" y="385.4" width="29.38" height="13.2" fill="#747474"/>
<rect x="1065.62" y="385.4" width="29.38" height="13.2" fill="#555555"/>
<rect x="949.3" y="385.4" width="145.40" height="13.2" fill="none" stroke="#222" stroke-width="1"/>
<text transform="translate(949.30,414.50) scale(1.1,1)" font-size="15.6" text-anchor="middle" fill="#000" >10</text>
<text transform="translate(978.38,414.50) scale(1.1,1)" font-size="15.6" text-anchor="middle" fill="#000" >25</text>
<text transform="translate(1007.46,414.50) scale(1.1,1)" font-size="15.6" text-anchor="middle" fill="#000" >50</text>
<text transform="translate(1036.54,414.50) scale(1.1,1)" font-size="15.6" text-anchor="middle" fill="#000" >75</text>
<text transform="translate(1065.62,414.50) scale(1.1,1)" font-size="15.6" text-anchor="middle" fill="#000" >90</text>
<text transform="translate(1094.70,414.50) scale(1.1,1)" font-size="15.6" text-anchor="middle" fill="#000" >100</text>
<text transform="translate(9.50,21.60) scale(1.012,1)" font-size="16" text-anchor="start" fill="#0000ff" >(kraj lahko izberete v meniju)</text>
<text transform="translate(399.50,36.30) scale(1.08,1)" font-size="22.4" text-anchor="start" fill="#0000ff" >Zagreb 7 dni</text>
<text transform="translate(1142.50,21.60) scale(1,1)" font-size="16" text-anchor="end" fill="#0000ff" >Zadnja posodobitev: 12.12.2025 - 20:09</text>
</svg></body></html>
